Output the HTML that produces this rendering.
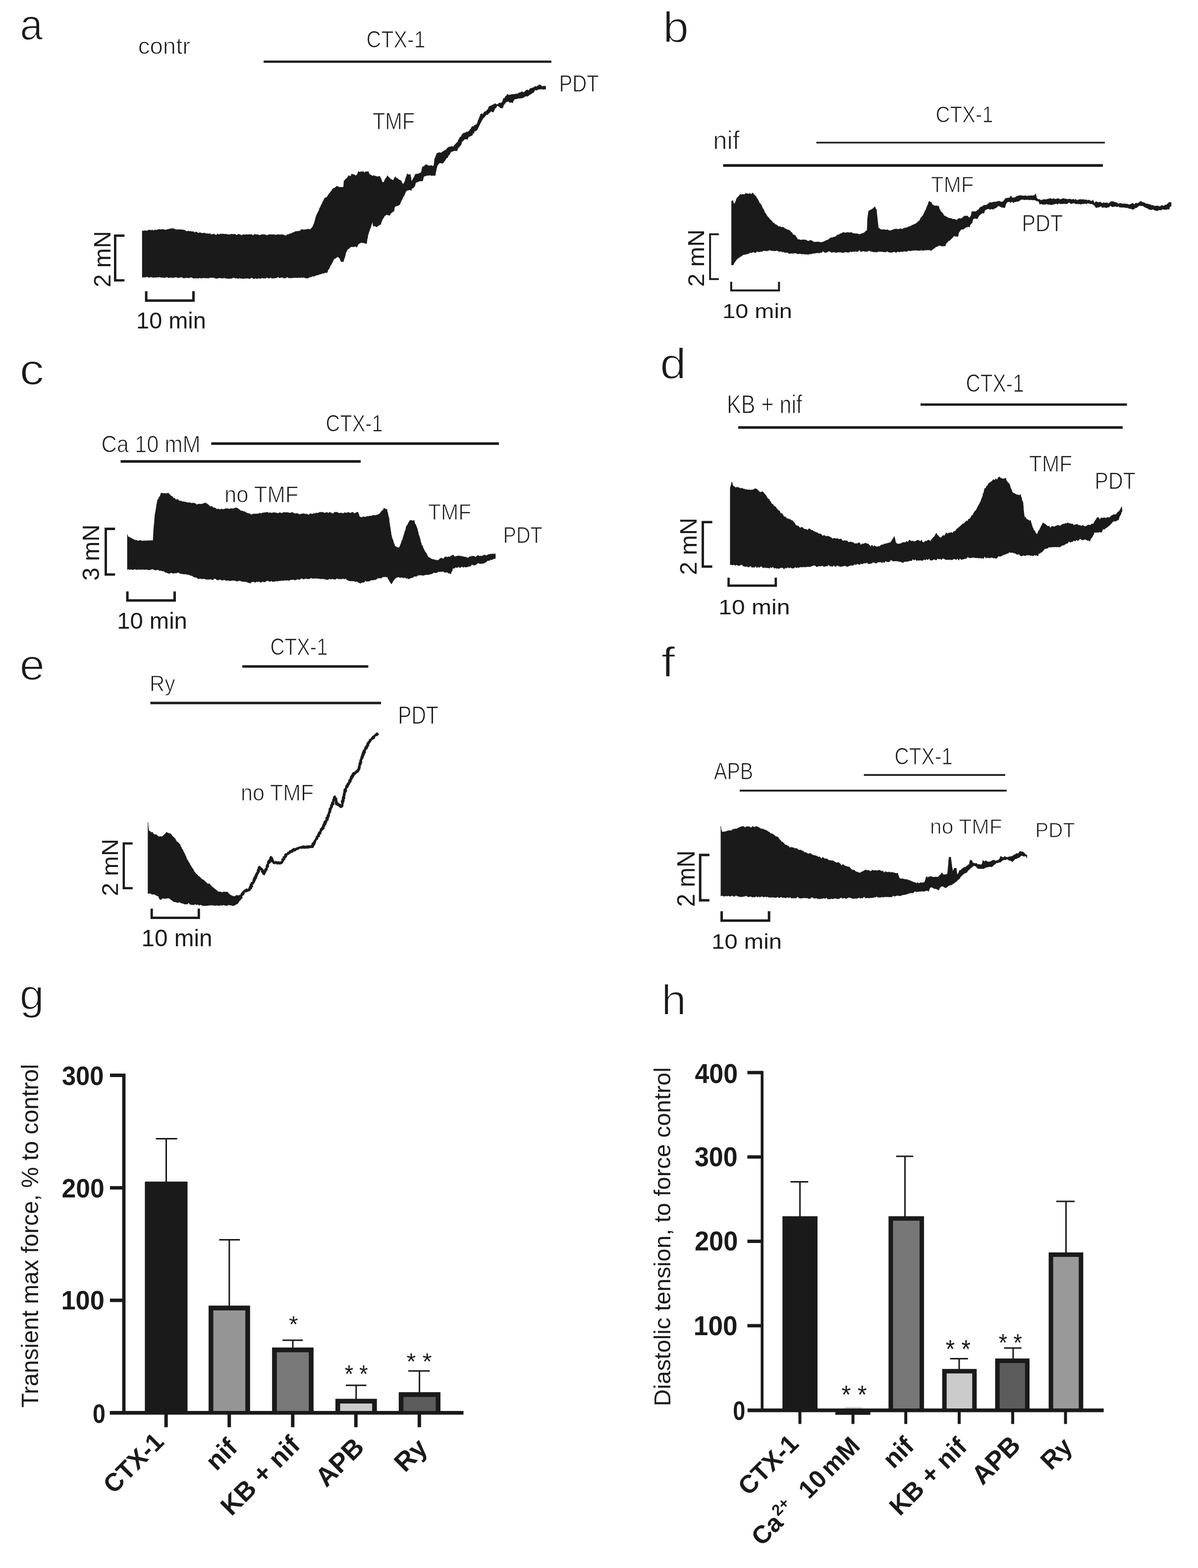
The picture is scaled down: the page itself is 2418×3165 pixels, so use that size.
<!DOCTYPE html>
<html><head><meta charset="utf-8"><title>Figure</title>
<style>html,body{margin:0;padding:0;background:#fff;} svg{display:block;}</style></head>
<body><svg width="2418" height="3165" viewBox="0 0 2418 3165">
<rect width="2418" height="3165" fill="#fff"/>
<path d="M287.0 466.0 L289.6 466.1 L292.2 465.5 L294.8 465.8 L297.4 465.9 L300.0 464.0 L302.5 464.3 L305.0 465.0 L307.5 463.9 L310.0 465.8 L312.5 463.7 L315.0 464.4 L317.5 464.0 L320.0 463.0 L322.7 462.9 L325.4 463.5 L328.1 462.8 L330.8 463.3 L333.5 464.3 L336.2 463.6 L338.9 462.8 L341.6 462.3 L344.3 461.7 L347.0 461.0 L349.6 461.7 L352.1 461.8 L354.7 463.6 L357.2 463.4 L359.8 463.3 L362.3 463.4 L364.9 463.5 L367.4 463.8 L370.0 464.0 L372.5 464.4 L375.1 466.1 L377.6 467.3 L380.1 465.8 L382.6 467.0 L385.2 466.7 L387.7 467.7 L390.2 467.0 L392.8 469.4 L395.3 467.9 L397.8 468.7 L400.4 470.8 L402.9 469.3 L405.4 469.9 L407.9 470.9 L410.5 470.6 L413.0 470.0 L415.6 471.7 L418.3 471.2 L420.9 472.1 L423.6 471.3 L426.2 473.2 L428.9 473.2 L431.5 472.0 L434.1 473.8 L436.8 474.5 L439.4 471.7 L442.1 473.7 L444.7 472.0 L447.4 472.2 L450.0 472.0 L452.5 472.7 L455.0 472.3 L457.6 473.0 L460.1 473.2 L462.6 473.5 L465.1 473.2 L467.6 472.3 L470.2 472.9 L472.7 472.8 L475.2 472.8 L477.7 474.9 L480.2 472.7 L482.8 472.9 L485.3 473.7 L487.8 475.2 L490.3 473.5 L492.8 473.6 L495.4 473.9 L497.9 473.1 L500.4 473.8 L502.9 473.1 L505.4 473.4 L508.0 473.1 L510.5 475.4 L513.0 473.0 L515.6 473.2 L518.2 473.7 L520.7 473.4 L523.3 475.0 L525.9 474.3 L528.5 473.2 L531.0 473.5 L533.6 473.5 L536.2 474.0 L538.8 475.2 L541.3 473.9 L543.9 473.3 L546.5 473.6 L549.1 473.4 L551.7 473.6 L554.2 473.6 L556.8 474.4 L559.4 473.6 L562.0 473.2 L564.5 474.0 L567.1 473.5 L569.7 473.7 L572.3 474.0 L574.8 475.3 L577.4 476.0 L580.0 473.0 L582.4 473.3 L584.9 471.8 L587.3 471.7 L589.7 469.9 L592.1 469.3 L594.6 467.9 L597.0 467.0 L599.6 466.9 L602.2 466.3 L604.8 466.5 L607.4 463.8 L610.0 463.0 L612.5 463.8 L615.0 463.7 L617.5 463.2 L620.0 462.5 L622.5 462.4 L625.0 463.2 L627.5 461.7 L630.0 459.0 L631.0 457.3 L632.0 455.5 L633.0 452.9 L634.0 450.9 L635.0 446.7 L635.8 444.7 L636.6 440.9 L637.5 438.3 L638.3 435.0 L639.4 433.4 L640.5 430.3 L641.6 429.0 L642.8 426.0 L643.9 424.4 L645.0 420.0 L646.6 417.9 L648.3 413.3 L649.6 411.9 L651.0 408.3 L652.3 405.8 L653.7 403.3 L655.0 400.0 L657.1 399.1 L659.1 398.3 L661.2 396.0 L663.3 391.7 L665.0 390.3 L666.7 387.6 L668.3 386.2 L670.0 383.4 L671.7 380.8 L674.5 379.8 L677.2 377.8 L680.0 375.8 L682.7 376.8 L685.3 377.9 L688.0 377.8 L690.6 378.0 L693.3 377.5 L693.5 375.1 L693.7 373.8 L693.8 370.3 L694.0 368.4 L694.2 365.0 L696.0 363.8 L697.8 361.1 L699.7 359.9 L701.5 358.0 L703.3 354.2 L705.5 355.2 L707.8 355.5 L710.0 350.8 L712.5 352.3 L715.0 352.2 L717.5 354.5 L720.0 353.3 L721.1 352.0 L722.2 348.8 L723.3 345.8 L725.8 347.5 L728.3 346.4 L730.8 346.8 L733.3 345.9 L735.8 348.5 L738.3 346.0 L740.8 346.9 L743.3 345.8 L744.4 348.7 L745.6 351.3 L746.7 352.5 L749.2 353.3 L751.7 355.6 L754.2 354.0 L756.7 355.2 L759.2 355.7 L761.7 356.8 L764.2 356.0 L766.7 355.8 L768.0 359.2 L769.3 361.0 L770.7 365.7 L772.0 367.3 L773.3 368.3 L774.7 367.4 L776.1 364.2 L777.5 361.5 L778.9 358.9 L780.3 358.4 L781.7 354.2 L783.7 356.6 L785.7 358.6 L787.7 360.9 L789.7 361.7 L791.7 363.3 L793.9 363.6 L796.1 358.9 L798.3 356.7 L800.6 359.7 L803.0 360.5 L805.3 362.7 L807.7 363.8 L810.0 365.0 L811.4 368.9 L812.8 371.1 L814.2 371.7 L815.1 369.4 L816.1 367.9 L817.0 366.5 L818.0 362.7 L818.9 359.3 L819.8 356.9 L820.8 354.7 L821.7 350.8 L825.0 352.7 L828.3 351.7 L828.8 356.3 L829.3 357.7 L829.8 360.2 L830.3 364.7 L830.8 365.8 L832.0 364.3 L833.3 361.2 L834.5 359.2 L835.8 357.6 L837.0 354.3 L838.3 351.7 L841.2 351.0 L844.1 351.0 L847.1 349.3 L850.0 348.3 L850.6 346.0 L851.2 342.6 L851.9 339.8 L852.5 336.7 L855.0 336.1 L857.5 334.1 L860.0 331.5 L862.6 333.4 L865.2 334.4 L867.8 334.7 L870.3 333.6 L872.9 335.2 L875.5 334.2 L875.8 333.3 L876.1 329.4 L876.4 328.2 L876.7 325.3 L877.0 320.2 L878.2 318.8 L879.4 315.2 L880.5 312.6 L881.7 309.4 L884.5 308.5 L887.3 307.7 L890.0 308.6 L892.8 306.4 L895.6 304.8 L897.9 303.3 L900.2 302.4 L902.6 299.3 L904.9 297.0 L907.4 296.6 L909.9 296.0 L912.3 295.3 L914.8 296.2 L917.3 292.4 L919.6 290.6 L921.9 287.7 L923.5 287.2 L925.0 282.6 L926.5 280.7 L928.1 276.9 L930.2 276.1 L932.2 272.3 L934.3 269.2 L936.8 268.2 L939.3 267.9 L941.7 266.1 L944.2 266.2 L946.7 263.8 L948.2 262.2 L949.8 260.6 L951.4 257.5 L952.9 255.2 L955.2 255.5 L957.5 253.0 L959.8 252.3 L962.1 250.6 L963.1 248.4 L964.2 246.4 L965.2 241.3 L966.4 241.5 L967.5 236.0 L968.7 234.9 L969.9 230.5 L972.2 229.1 L974.5 230.9 L976.8 226.3 L979.2 225.1 L981.5 224.0 L983.8 221.2 L985.3 219.2 L986.9 215.0 L989.4 214.0 L991.9 212.9 L994.3 211.4 L996.8 210.8 L999.3 208.8 L1002.1 210.8 L1004.9 210.6 L1007.6 207.6 L1010.4 208.1 L1013.2 206.5 L1014.2 204.7 L1015.3 201.1 L1016.3 198.0 L1018.2 198.7 L1020.1 194.4 L1022.1 193.4 L1024.0 190.0 L1027.1 192.1 L1030.2 191.3 L1033.3 190.4 L1036.4 190.2 L1039.0 190.3 L1041.6 189.3 L1044.2 189.7 L1046.7 187.6 L1049.3 187.2 L1051.9 185.6 L1054.4 184.9 L1056.9 186.9 L1059.3 184.7 L1061.8 182.2 L1064.3 181.0 L1066.9 182.9 L1069.5 178.9 L1072.0 178.1 L1074.6 177.4 L1077.2 176.6 L1079.8 174.0 L1082.9 175.0 L1085.9 172.8 L1089.0 170.9 L1091.5 171.8 L1094.0 174.6 L1096.4 173.8 L1098.9 174.0 L1101.4 173.2 L1101.4 180.2 L1098.8 180.1 L1096.1 180.6 L1093.5 179.5 L1090.8 180.3 L1088.2 180.1 L1085.5 180.9 L1082.9 182.5 L1080.8 181.2 L1078.8 183.5 L1076.7 187.1 L1074.5 187.4 L1072.3 189.8 L1070.2 190.6 L1068.0 192.1 L1065.8 194.1 L1063.3 194.4 L1060.9 194.0 L1058.4 195.8 L1056.0 197.2 L1053.5 198.0 L1050.9 198.2 L1048.3 198.6 L1045.8 198.5 L1043.2 199.6 L1040.6 199.7 L1038.0 201.1 L1037.0 202.9 L1035.9 203.7 L1034.9 208.0 L1032.2 206.2 L1029.5 207.3 L1025.6 204.2 L1023.7 205.5 L1021.8 205.8 L1019.8 208.2 L1017.9 211.1 L1016.9 211.3 L1015.8 215.0 L1014.8 218.1 L1010.1 218.1 L1008.0 215.9 L1006.0 214.3 L1003.9 213.5 L1002.4 215.4 L1000.8 218.2 L999.3 218.7 L997.7 222.3 L996.2 225.8 L993.6 226.3 L991.1 224.3 L988.5 227.4 L986.1 229.2 L983.8 232.0 L981.5 231.4 L979.1 235.1 L976.8 237.6 L974.5 239.8 L973.3 242.2 L972.0 244.0 L970.8 246.9 L969.5 248.4 L968.3 252.1 L967.1 253.9 L966.0 256.7 L964.9 258.2 L963.7 261.4 L961.9 263.1 L960.1 265.0 L958.3 263.6 L956.5 269.2 L954.7 269.1 L952.9 273.8 L950.6 274.0 L948.2 275.6 L945.9 276.3 L943.6 281.5 L941.0 280.7 L938.4 281.1 L935.8 283.1 L934.2 285.3 L932.7 285.1 L931.1 291.0 L929.6 293.9 L928.1 294.6 L926.5 298.0 L925.0 297.5 L923.4 302.6 L921.9 304.8 L919.2 304.2 L916.5 304.3 L913.8 305.5 L911.1 306.3 L909.5 307.5 L908.0 311.1 L906.4 313.0 L904.9 314.7 L903.3 318.7 L901.4 318.8 L899.6 321.9 L897.7 324.8 L895.9 327.1 L894.0 329.5 L890.9 329.4 L887.9 328.8 L884.8 331.1 L883.8 333.6 L882.7 334.1 L881.7 338.8 L881.2 339.3 L880.7 342.7 L880.2 345.2 L879.6 347.9 L879.1 350.5 L878.6 354.3 L876.0 354.2 L873.3 354.2 L870.5 354.4 L867.8 353.4 L865.0 354.3 L862.2 354.1 L859.5 355.0 L856.7 355.8 L855.6 356.1 L854.4 360.0 L853.3 365.0 L850.6 365.5 L848.0 365.3 L845.3 366.3 L842.7 367.6 L840.0 368.3 L838.9 369.6 L837.8 373.9 L836.7 376.7 L835.0 378.6 L833.4 380.3 L831.7 379.3 L830.0 385.0 L827.2 382.7 L824.5 384.0 L821.7 384.2 L820.4 385.8 L819.0 387.0 L817.7 390.4 L816.3 393.6 L815.0 396.7 L813.8 396.4 L812.6 400.8 L811.4 403.1 L810.3 404.6 L809.1 407.7 L807.9 410.5 L806.7 413.3 L804.2 414.5 L801.7 415.5 L799.2 415.9 L796.7 418.3 L796.1 420.5 L795.6 423.3 L795.0 426.7 L792.9 427.2 L790.9 429.6 L788.8 430.2 L786.7 435.0 L783.4 434.1 L780.0 433.3 L778.3 435.1 L776.7 435.1 L775.0 438.6 L773.4 440.9 L771.7 443.3 L770.9 445.7 L770.0 447.7 L769.1 450.7 L768.3 453.3 L765.5 454.1 L762.8 456.2 L760.0 458.3 L756.6 456.0 L753.3 456.7 L752.8 453.7 L752.2 449.3 L751.7 448.3 L750.9 450.7 L750.0 453.3 L749.1 455.5 L748.3 460.0 L747.3 461.0 L746.3 463.9 L745.3 466.7 L744.3 470.1 L743.3 473.3 L742.8 473.4 L742.4 477.4 L741.9 481.1 L741.4 481.8 L740.9 485.3 L740.5 488.3 L740.0 491.7 L737.3 491.4 L734.7 490.3 L732.0 490.2 L729.4 489.6 L726.7 490.8 L725.0 492.1 L723.4 492.3 L721.7 496.4 L720.0 499.2 L717.1 497.0 L714.1 498.5 L711.2 498.0 L708.3 498.3 L706.2 499.9 L704.1 502.3 L702.1 502.7 L700.0 506.7 L699.3 507.4 L698.5 510.3 L697.8 510.5 L697.0 515.5 L696.3 518.1 L695.5 520.5 L694.8 522.2 L694.0 524.4 L693.3 528.3 L690.8 527.9 L688.3 528.3 L686.9 524.4 L685.6 521.7 L684.2 520.0 L681.1 518.2 L678.1 521.0 L675.0 522.5 L673.7 522.9 L672.3 527.4 L671.0 529.3 L669.6 532.2 L668.3 535.0 L667.1 535.2 L665.9 538.9 L664.7 541.5 L663.6 543.8 L662.4 544.1 L661.2 548.5 L660.0 550.8 L657.1 550.0 L654.1 551.7 L651.2 551.5 L648.3 553.3 L645.8 553.3 L643.3 554.8 L640.8 555.2 L638.3 555.8 L635.8 556.7 L633.3 558.3 L630.6 557.1 L628.0 559.4 L625.3 559.0 L622.7 560.9 L620.0 561.7 L617.5 561.2 L615.0 560.8 L612.5 559.8 L610.0 560.5 L607.5 559.9 L605.0 560.7 L602.5 559.9 L600.0 561.0 L597.4 560.3 L594.9 560.6 L592.3 560.5 L589.8 561.0 L587.2 561.2 L584.6 560.9 L582.1 561.1 L579.5 559.0 L577.0 561.2 L574.4 561.4 L571.9 561.3 L569.3 559.7 L566.7 560.3 L564.2 561.2 L561.6 559.1 L559.1 560.5 L556.5 561.1 L553.9 561.4 L551.4 561.4 L548.8 562.1 L546.3 560.1 L543.7 561.8 L541.1 561.3 L538.6 560.0 L536.0 562.2 L533.5 561.2 L530.9 561.6 L528.4 561.0 L525.8 562.6 L523.2 561.5 L520.7 562.0 L518.1 562.8 L515.6 561.3 L513.0 563.0 L510.5 562.1 L508.0 560.1 L505.5 562.0 L503.0 562.8 L500.4 561.5 L497.9 561.9 L495.4 562.0 L492.9 561.8 L490.4 562.7 L487.9 562.0 L485.4 561.7 L482.9 561.4 L480.4 562.4 L477.8 560.9 L475.3 562.0 L472.8 560.4 L470.3 560.5 L467.8 562.0 L465.3 561.9 L462.8 562.5 L460.3 562.1 L457.8 561.9 L455.2 561.8 L452.7 560.7 L450.2 561.6 L447.7 561.7 L445.2 561.0 L442.7 561.0 L440.2 561.3 L437.7 562.2 L435.2 561.6 L432.6 561.3 L430.1 559.9 L427.6 560.4 L425.1 560.3 L422.6 560.6 L420.1 562.0 L417.6 561.0 L415.1 561.3 L412.6 561.0 L410.0 560.9 L407.5 561.5 L405.0 561.2 L402.5 561.0 L400.0 562.0 L397.5 561.1 L395.0 561.7 L392.5 561.4 L390.0 561.8 L387.4 560.2 L384.9 559.4 L382.4 560.9 L379.9 561.0 L377.4 560.4 L374.9 560.7 L372.4 561.2 L369.9 561.3 L367.4 559.5 L364.8 559.6 L362.3 560.1 L359.8 561.2 L357.3 559.7 L354.8 559.3 L352.3 559.9 L349.8 560.6 L347.3 560.6 L344.8 559.8 L342.2 560.6 L339.7 560.8 L337.2 559.0 L334.7 559.8 L332.2 560.5 L329.7 560.2 L327.2 559.9 L324.7 560.1 L322.2 559.0 L319.6 559.6 L317.1 559.4 L314.6 560.1 L312.1 559.8 L309.6 560.3 L307.1 559.4 L304.6 559.1 L302.1 559.7 L299.6 560.2 L297.0 558.3 L294.5 559.4 L292.0 559.6 L289.5 559.5 L287.0 560.0 Z" fill="#1a1a1a" stroke="#1a1a1a" stroke-width="0.6" stroke-linejoin="round"/>
<path d="M1476.4 406.4 L1479.0 404.0 L1479.9 407.4 L1480.9 409.9 L1481.8 411.8 L1482.8 410.4 L1483.9 408.3 L1484.9 406.5 L1486.0 402.4 L1487.0 400.0 L1488.8 398.1 L1490.5 396.3 L1492.2 394.7 L1494.0 392.0 L1496.8 392.9 L1499.5 392.1 L1502.2 392.7 L1505.0 390.0 L1507.8 390.7 L1510.6 391.3 L1513.4 390.4 L1516.2 392.0 L1519.0 389.0 L1521.3 391.9 L1523.7 394.6 L1526.0 396.0 L1527.4 400.2 L1528.8 400.6 L1530.1 404.2 L1531.5 405.4 L1532.9 410.0 L1534.2 410.2 L1535.6 413.0 L1537.0 414.0 L1538.2 417.8 L1539.4 420.2 L1540.7 422.0 L1541.9 423.8 L1543.1 427.7 L1544.3 430.0 L1545.6 430.6 L1546.8 433.6 L1548.0 435.0 L1550.0 438.3 L1552.0 439.7 L1554.0 442.8 L1556.0 444.4 L1558.0 446.0 L1560.2 449.9 L1562.4 450.1 L1564.6 452.7 L1566.8 453.5 L1569.0 455.0 L1571.6 457.6 L1574.2 456.8 L1576.8 458.7 L1579.4 458.4 L1582.0 459.0 L1584.4 461.4 L1586.8 461.9 L1589.2 463.8 L1591.6 464.3 L1594.0 465.0 L1596.2 468.0 L1598.4 469.3 L1600.6 473.4 L1602.8 474.1 L1605.0 475.0 L1606.8 478.1 L1608.5 479.8 L1610.2 483.8 L1612.0 483.0 L1614.6 484.1 L1617.2 484.6 L1619.8 483.8 L1622.4 484.0 L1625.0 484.0 L1628.0 484.9 L1631.0 486.9 L1634.0 485.4 L1637.0 485.0 L1639.6 486.4 L1642.2 488.2 L1644.8 488.6 L1647.4 488.4 L1650.0 488.0 L1653.0 488.4 L1656.0 489.1 L1659.0 489.0 L1662.0 488.0 L1665.0 486.6 L1668.0 485.0 L1670.7 484.6 L1673.3 482.3 L1676.0 480.0 L1678.3 479.7 L1680.7 479.5 L1683.0 478.0 L1685.3 478.2 L1687.7 476.7 L1690.0 474.0 L1692.8 474.0 L1695.5 471.8 L1698.2 471.3 L1701.0 469.0 L1703.6 469.3 L1706.1 470.1 L1708.7 469.3 L1711.3 469.1 L1713.9 469.4 L1716.4 469.4 L1719.0 469.0 L1721.6 471.3 L1724.1 471.1 L1726.7 471.7 L1729.3 471.4 L1731.9 472.2 L1734.4 473.2 L1737.0 472.5 L1739.2 471.5 L1741.3 470.7 L1743.5 470.2 L1745.7 468.0 L1747.8 466.3 L1750.0 465.0 L1750.1 463.4 L1750.2 461.0 L1750.3 457.6 L1750.4 455.0 L1750.5 454.1 L1750.6 450.5 L1750.7 449.1 L1750.8 446.2 L1750.9 442.9 L1751.0 440.0 L1751.4 437.6 L1751.8 434.6 L1752.2 432.7 L1752.6 429.4 L1753.0 426.0 L1755.3 424.7 L1757.7 423.5 L1760.0 422.0 L1762.0 421.0 L1764.0 418.8 L1766.0 417.0 L1767.5 421.2 L1769.0 422.5 L1769.3 425.1 L1769.6 429.2 L1769.9 431.5 L1770.1 434.1 L1770.4 435.4 L1770.7 439.2 L1771.0 440.0 L1771.2 445.4 L1771.5 446.0 L1771.8 448.8 L1772.0 451.2 L1772.2 452.8 L1772.5 455.5 L1772.8 459.1 L1773.0 460.0 L1775.6 461.3 L1778.1 463.6 L1780.7 463.4 L1783.3 463.3 L1785.9 463.6 L1788.4 464.3 L1791.0 463.5 L1793.7 464.8 L1796.4 465.8 L1799.1 464.8 L1801.9 463.9 L1804.6 462.7 L1807.3 462.2 L1810.0 462.0 L1812.7 463.2 L1815.3 462.3 L1818.0 461.3 L1820.7 462.7 L1823.3 461.1 L1826.0 460.0 L1828.8 459.7 L1831.6 458.8 L1834.4 457.2 L1837.2 456.9 L1840.0 455.0 L1842.2 454.0 L1844.4 453.3 L1846.6 452.0 L1848.8 451.3 L1851.0 449.0 L1852.8 447.4 L1854.5 445.9 L1856.2 445.1 L1858.0 440.0 L1859.6 438.7 L1861.2 436.6 L1862.8 434.7 L1864.4 432.1 L1866.0 428.0 L1867.0 425.6 L1868.0 424.5 L1869.0 422.3 L1870.0 419.4 L1871.0 416.7 L1872.0 414.5 L1873.0 412.5 L1874.0 409.1 L1875.0 406.0 L1877.5 407.6 L1880.0 408.4 L1881.0 412.1 L1883.8 413.9 L1886.6 415.6 L1889.4 415.1 L1892.2 415.8 L1895.0 416.4 L1896.0 421.4 L1897.1 422.9 L1898.7 426.5 L1900.3 428.1 L1901.9 429.3 L1903.6 431.6 L1905.2 434.8 L1906.8 435.7 L1909.4 437.3 L1912.1 438.4 L1914.9 440.2 L1917.7 440.5 L1920.5 441.1 L1923.3 442.6 L1926.1 442.1 L1930.4 444.3 L1932.5 443.1 L1934.6 441.1 L1937.0 440.7 L1939.4 441.4 L1941.9 439.7 L1944.3 437.9 L1946.4 435.7 L1949.7 436.1 L1952.9 435.7 L1955.0 438.5 L1957.1 439.5 L1958.2 437.8 L1959.3 436.0 L1960.4 432.5 L1960.9 430.6 L1961.4 427.1 L1964.1 427.0 L1966.8 427.0 L1969.4 426.9 L1972.1 425.0 L1973.9 423.5 L1975.7 422.5 L1977.5 419.1 L1979.7 417.9 L1981.8 416.9 L1983.9 415.7 L1986.1 413.8 L1988.9 414.2 L1991.8 413.4 L1994.6 411.1 L1997.9 408.4 L2000.4 409.1 L2002.9 408.5 L2005.4 407.7 L2007.9 407.5 L2010.4 407.2 L2012.9 406.8 L2017.1 405.7 L2020.3 407.6 L2023.6 407.3 L2025.7 405.4 L2027.9 402.4 L2030.0 399.8 L2032.7 400.1 L2035.3 399.5 L2038.0 399.0 L2040.7 395.0 L2042.3 398.3 L2043.9 399.3 L2046.3 399.2 L2048.8 398.5 L2051.2 396.5 L2053.6 395.5 L2056.8 395.1 L2060.0 394.3 L2062.5 395.0 L2065.1 395.3 L2067.6 395.2 L2070.2 394.7 L2072.7 396.1 L2075.3 394.9 L2077.8 395.4 L2080.4 394.8 L2082.9 394.9 L2085.5 395.0 L2088.0 394.0 L2090.6 391.0 L2091.4 394.5 L2092.2 399.8 L2093.0 400.0 L2095.8 402.7 L2098.7 402.4 L2101.5 404.5 L2104.3 403.1 L2107.1 402.4 L2109.8 403.0 L2112.6 402.2 L2115.4 401.5 L2118.2 401.0 L2121.0 400.4 L2123.7 402.1 L2126.4 400.5 L2129.1 402.0 L2131.8 401.7 L2134.5 400.7 L2137.2 401.0 L2139.9 402.8 L2142.6 401.8 L2145.3 400.4 L2147.9 400.9 L2150.5 401.5 L2153.1 402.0 L2155.7 402.3 L2158.3 401.5 L2160.9 402.1 L2163.5 403.1 L2166.1 401.7 L2168.7 403.3 L2171.3 402.0 L2173.9 404.5 L2176.5 403.2 L2179.1 402.7 L2181.7 402.4 L2184.4 402.9 L2187.1 402.6 L2189.8 403.6 L2192.5 402.9 L2195.2 404.5 L2197.9 403.4 L2200.6 405.0 L2203.3 406.2 L2206.0 403.4 L2209.0 410.1 L2212.0 406.4 L2214.5 407.8 L2217.1 408.6 L2219.6 407.8 L2222.2 408.2 L2224.7 410.5 L2227.2 408.9 L2229.8 409.6 L2232.3 409.5 L2234.7 409.1 L2237.2 410.9 L2239.6 409.3 L2242.1 407.1 L2244.5 406.4 L2247.1 406.9 L2249.6 407.9 L2252.2 408.5 L2254.8 409.4 L2257.4 411.9 L2259.9 410.0 L2262.5 410.4 L2265.1 411.4 L2267.7 411.3 L2270.2 411.3 L2272.8 411.5 L2275.6 412.0 L2278.5 413.0 L2281.3 412.7 L2284.2 410.8 L2287.0 410.5 L2289.7 412.9 L2292.4 409.6 L2295.1 410.4 L2297.8 409.8 L2300.5 407.2 L2303.2 406.0 L2305.9 408.4 L2308.6 408.7 L2311.3 410.0 L2314.0 411.6 L2316.7 411.5 L2319.4 412.5 L2322.1 413.1 L2324.8 414.6 L2327.4 414.5 L2330.1 416.1 L2332.8 415.7 L2335.5 415.5 L2338.2 415.8 L2340.9 417.0 L2343.6 414.9 L2346.3 414.5 L2349.0 416.0 L2351.7 413.5 L2354.4 413.4 L2357.1 410.6 L2359.8 408.5 L2363.9 408.5 L2363.9 415.5 L2362.5 417.3 L2361.2 417.2 L2359.8 422.6 L2357.1 421.9 L2354.4 422.9 L2351.7 423.0 L2349.0 422.9 L2346.3 422.0 L2343.6 424.3 L2340.9 423.8 L2338.2 424.2 L2335.5 425.7 L2332.8 424.9 L2330.1 424.2 L2327.4 422.2 L2324.8 423.5 L2322.1 423.1 L2319.4 423.0 L2317.1 421.0 L2314.8 419.9 L2312.5 418.9 L2310.1 418.0 L2307.8 416.3 L2305.5 415.2 L2303.2 415.5 L2300.9 415.0 L2298.6 415.7 L2296.3 417.6 L2293.9 419.6 L2291.6 419.6 L2289.3 421.7 L2287.0 423.0 L2284.2 421.8 L2281.3 421.2 L2278.5 420.8 L2275.6 419.3 L2272.8 419.6 L2270.2 418.7 L2267.7 418.6 L2265.1 418.8 L2262.5 418.3 L2259.9 418.6 L2257.4 416.3 L2254.8 417.7 L2252.2 416.7 L2249.6 416.8 L2247.1 417.2 L2244.5 417.6 L2241.4 415.1 L2238.4 418.0 L2235.4 418.6 L2232.3 419.6 L2229.8 418.2 L2227.2 418.4 L2224.7 419.2 L2222.2 416.0 L2219.6 417.6 L2217.1 418.6 L2214.5 418.6 L2212.0 419.6 L2210.0 416.0 L2208.0 414.4 L2206.0 412.5 L2203.3 411.6 L2200.6 411.6 L2197.9 410.4 L2195.2 409.9 L2192.5 411.7 L2189.8 410.7 L2187.1 411.6 L2184.4 411.3 L2181.7 412.5 L2179.1 411.7 L2176.5 411.7 L2173.9 411.0 L2171.3 412.1 L2168.7 410.0 L2166.1 409.9 L2163.5 410.9 L2160.9 411.3 L2158.3 408.2 L2155.7 409.8 L2153.1 411.7 L2150.5 411.2 L2147.9 410.7 L2145.3 411.5 L2142.6 411.4 L2139.9 411.6 L2137.2 410.3 L2134.5 412.4 L2131.8 410.9 L2129.1 411.4 L2126.4 412.6 L2123.7 413.1 L2121.0 413.5 L2118.2 412.6 L2115.4 412.9 L2112.6 411.5 L2109.8 412.6 L2107.1 412.8 L2104.3 412.4 L2101.5 411.4 L2098.7 412.5 L2096.7 407.2 L2094.6 405.7 L2092.6 406.1 L2090.6 404.4 L2088.0 403.5 L2085.5 403.9 L2082.9 403.5 L2080.4 403.1 L2077.8 404.0 L2075.3 402.7 L2072.8 403.3 L2070.2 403.0 L2067.7 403.4 L2065.1 402.8 L2062.6 402.6 L2060.0 403.5 L2057.8 405.0 L2055.7 406.8 L2053.0 406.5 L2050.3 407.4 L2047.7 407.6 L2045.0 409.5 L2042.4 406.7 L2039.8 408.9 L2037.3 407.2 L2034.7 407.3 L2032.1 408.9 L2031.0 410.6 L2030.0 413.2 L2029.0 416.6 L2027.9 419.6 L2024.7 418.8 L2021.4 418.6 L2018.2 416.7 L2015.0 415.4 L2012.8 417.5 L2010.7 419.6 L2007.5 420.6 L2004.3 422.9 L2001.6 421.5 L1998.9 422.9 L1996.2 421.7 L1993.6 421.7 L1990.9 422.8 L1988.2 423.9 L1987.2 426.8 L1986.1 430.4 L1982.8 430.1 L1979.6 432.5 L1977.7 434.1 L1975.8 435.7 L1974.0 439.4 L1972.1 442.1 L1969.3 440.9 L1966.4 441.0 L1963.6 443.2 L1963.0 445.6 L1962.5 449.6 L1960.3 451.4 L1958.2 453.9 L1957.7 455.2 L1957.1 458.8 L1954.6 457.4 L1952.1 458.5 L1949.6 458.8 L1946.4 461.4 L1944.3 462.8 L1942.1 463.1 L1940.0 463.0 L1937.8 466.2 L1935.7 468.9 L1935.0 470.0 L1934.3 474.5 L1933.6 477.5 L1930.9 477.2 L1928.2 476.9 L1925.6 475.9 L1922.9 479.6 L1921.1 481.3 L1919.3 483.1 L1917.5 485.0 L1915.0 486.1 L1912.5 488.8 L1910.0 491.4 L1909.0 492.5 L1907.9 496.8 L1905.0 496.2 L1902.2 497.2 L1899.3 496.2 L1896.4 495.3 L1893.6 496.4 L1890.7 497.9 L1888.6 498.5 L1886.4 501.1 L1884.3 501.7 L1882.1 503.7 L1880.0 506.0 L1877.4 505.0 L1874.9 504.5 L1872.3 504.6 L1869.7 504.9 L1867.1 504.7 L1864.6 505.6 L1862.0 505.7 L1859.4 504.5 L1856.9 505.9 L1854.3 505.4 L1851.7 505.8 L1849.1 505.2 L1846.6 504.9 L1844.0 506.0 L1841.5 505.3 L1838.9 506.2 L1836.4 506.5 L1833.9 505.5 L1831.4 507.3 L1828.8 507.7 L1826.3 507.1 L1823.8 507.6 L1821.2 508.3 L1818.7 507.4 L1816.2 509.1 L1813.7 507.9 L1811.1 508.1 L1808.6 510.0 L1806.0 508.4 L1803.5 507.9 L1800.9 509.6 L1798.3 509.6 L1795.7 509.1 L1793.2 509.1 L1790.6 507.1 L1788.0 509.0 L1785.4 508.6 L1782.9 508.5 L1780.3 507.7 L1777.7 508.1 L1775.1 507.5 L1772.6 507.9 L1770.0 509.0 L1767.5 508.6 L1764.9 508.7 L1762.4 508.6 L1759.8 507.4 L1757.3 507.6 L1754.8 505.8 L1752.2 507.0 L1749.7 507.7 L1747.2 507.6 L1744.6 507.5 L1742.1 506.5 L1739.5 507.8 L1737.0 508.0 L1734.4 504.3 L1731.9 508.1 L1729.3 507.7 L1726.7 507.3 L1724.1 508.0 L1721.6 507.4 L1719.0 508.6 L1716.4 507.7 L1713.9 509.2 L1711.3 509.4 L1708.7 509.0 L1706.1 508.5 L1703.6 509.8 L1701.0 510.0 L1698.5 509.8 L1696.0 508.8 L1693.5 509.1 L1691.0 508.9 L1688.5 509.9 L1686.0 509.6 L1683.5 508.7 L1681.0 509.1 L1678.5 509.7 L1676.0 508.3 L1673.5 506.7 L1671.0 507.9 L1668.5 509.4 L1666.0 510.0 L1663.4 508.9 L1660.9 507.1 L1658.3 510.1 L1655.7 509.7 L1653.1 511.2 L1650.6 509.9 L1648.0 510.7 L1645.4 511.0 L1642.9 511.4 L1640.3 511.5 L1637.7 512.7 L1635.1 512.5 L1632.6 513.3 L1630.0 513.6 L1627.4 513.1 L1624.9 513.2 L1622.3 512.8 L1619.7 512.8 L1617.1 512.8 L1614.6 511.7 L1612.0 512.5 L1609.4 512.3 L1606.9 511.1 L1604.3 510.9 L1601.7 511.3 L1599.1 511.5 L1596.6 511.2 L1594.0 512.0 L1591.5 511.4 L1588.9 509.3 L1586.4 509.7 L1583.9 510.1 L1581.4 508.3 L1578.8 509.0 L1576.3 507.1 L1573.8 507.5 L1571.2 507.8 L1568.7 505.4 L1566.2 506.2 L1563.7 506.5 L1561.1 506.2 L1558.6 506.0 L1556.1 506.1 L1553.5 504.5 L1551.0 505.9 L1548.4 506.5 L1545.9 506.3 L1543.3 506.4 L1540.8 505.7 L1538.3 508.2 L1535.7 507.6 L1533.2 508.2 L1530.6 508.2 L1528.1 507.6 L1525.5 509.7 L1523.0 510.0 L1520.4 508.4 L1517.9 510.0 L1515.3 510.0 L1512.7 510.5 L1510.1 512.5 L1507.6 512.6 L1505.0 513.6 L1502.5 513.7 L1500.0 514.3 L1497.5 516.3 L1495.0 518.0 L1493.0 518.8 L1491.0 520.7 L1489.0 521.5 L1487.0 524.0 L1485.6 525.6 L1484.2 527.7 L1482.8 529.0 L1481.4 532.1 L1480.0 535.0 L1476.4 535.0 Z" fill="#1a1a1a" stroke="#1a1a1a" stroke-width="0.6" stroke-linejoin="round"/>
<path d="M257.0 1078.8 L258.8 1083.6 L260.7 1083.9 L262.5 1085.0 L265.0 1086.1 L267.5 1087.8 L270.0 1088.6 L272.5 1090.4 L275.0 1090.0 L277.6 1091.5 L280.2 1091.7 L282.8 1090.3 L285.4 1091.3 L288.0 1092.3 L290.6 1090.9 L293.2 1092.0 L295.8 1091.3 L298.4 1091.2 L301.0 1091.5 L303.6 1090.9 L306.2 1091.1 L308.8 1091.0 L308.9 1088.4 L309.1 1087.3 L309.2 1084.0 L309.4 1081.2 L309.5 1078.7 L309.7 1076.1 L309.8 1073.7 L310.0 1070.0 L310.2 1068.0 L310.4 1065.0 L310.6 1063.0 L310.8 1060.9 L311.0 1058.7 L311.2 1056.9 L311.5 1054.2 L311.7 1052.3 L311.9 1048.3 L312.1 1045.3 L312.3 1044.6 L312.5 1040.0 L312.9 1038.6 L313.3 1035.9 L313.8 1032.9 L314.2 1031.5 L314.6 1027.8 L315.0 1027.0 L315.4 1022.6 L315.8 1020.2 L316.2 1018.4 L316.7 1015.7 L317.1 1013.8 L317.5 1010.0 L318.8 1007.9 L320.0 1007.0 L321.2 1003.0 L322.5 1002.4 L323.8 999.1 L325.0 995.0 L327.5 995.4 L330.0 995.9 L332.5 995.7 L335.0 996.3 L337.5 995.8 L340.0 995.0 L342.1 998.1 L344.2 999.6 L346.2 1001.4 L348.3 1002.4 L350.4 1005.7 L352.5 1005.0 L355.0 1009.0 L357.5 1008.0 L360.0 1008.4 L362.5 1011.7 L365.0 1010.6 L367.5 1012.6 L370.0 1012.5 L372.5 1012.9 L375.0 1013.1 L377.5 1014.5 L380.0 1014.6 L382.5 1014.2 L385.0 1015.3 L387.5 1015.8 L390.0 1015.0 L392.5 1015.8 L395.0 1016.8 L397.5 1018.9 L400.0 1017.1 L402.5 1017.5 L405.0 1017.6 L407.5 1017.5 L410.0 1016.6 L412.5 1015.6 L415.0 1015.0 L417.3 1016.5 L419.5 1017.9 L421.8 1020.0 L424.1 1022.5 L426.4 1022.0 L428.6 1022.6 L430.9 1025.1 L433.2 1024.8 L435.5 1026.0 L437.7 1027.9 L440.0 1027.5 L442.5 1027.5 L445.0 1028.6 L447.5 1027.1 L450.0 1028.2 L452.5 1027.8 L455.0 1026.6 L457.5 1026.7 L460.0 1026.6 L462.5 1027.6 L465.0 1026.9 L467.5 1026.0 L470.0 1026.9 L472.5 1025.8 L475.0 1025.3 L477.5 1025.0 L479.8 1026.3 L482.1 1027.8 L484.4 1029.6 L486.7 1031.3 L489.0 1030.9 L491.2 1032.4 L493.5 1032.5 L495.8 1033.7 L498.1 1035.4 L500.4 1035.9 L502.7 1036.5 L505.0 1037.5 L507.5 1039.1 L510.0 1037.6 L512.5 1037.2 L515.0 1037.3 L517.5 1037.1 L520.0 1037.3 L522.5 1036.4 L525.0 1035.6 L527.5 1036.8 L530.0 1035.1 L532.5 1034.9 L535.0 1034.4 L537.5 1034.3 L540.0 1033.8 L542.5 1035.4 L545.0 1034.6 L547.5 1035.5 L550.0 1035.2 L552.5 1034.3 L555.0 1035.0 L557.5 1034.9 L560.0 1036.2 L562.5 1035.6 L565.0 1034.4 L567.5 1035.8 L570.0 1035.6 L572.5 1034.0 L575.0 1034.5 L577.5 1034.4 L580.0 1034.3 L582.5 1035.0 L585.0 1035.5 L587.5 1034.9 L590.0 1033.8 L592.5 1035.8 L595.0 1036.7 L597.5 1036.5 L600.0 1035.9 L602.5 1037.6 L605.0 1038.4 L607.5 1037.3 L610.0 1037.3 L612.5 1036.6 L615.0 1037.2 L617.5 1037.7 L620.0 1037.5 L622.5 1039.6 L625.0 1037.5 L627.5 1036.5 L630.0 1038.0 L632.5 1036.1 L635.0 1037.1 L637.5 1035.4 L640.0 1035.4 L642.5 1035.6 L645.0 1033.8 L647.5 1033.9 L650.0 1034.0 L652.5 1034.3 L655.0 1035.4 L657.5 1034.9 L660.0 1033.8 L662.5 1036.0 L665.0 1033.8 L667.5 1034.4 L670.0 1036.5 L672.5 1036.7 L675.0 1033.8 L677.5 1033.9 L680.0 1033.8 L682.5 1035.0 L685.0 1036.1 L687.5 1035.2 L690.0 1035.6 L692.5 1036.6 L695.0 1034.7 L697.5 1034.9 L700.0 1035.4 L702.5 1033.8 L705.0 1035.1 L707.5 1035.5 L710.0 1034.2 L712.5 1033.8 L715.0 1036.7 L717.5 1035.4 L720.0 1034.0 L722.5 1033.8 L723.8 1036.6 L725.0 1041.3 L726.2 1042.7 L727.5 1043.8 L730.0 1044.4 L732.5 1043.1 L735.0 1043.1 L737.5 1043.8 L740.0 1042.4 L742.5 1042.2 L745.0 1041.9 L747.5 1041.3 L750.0 1041.5 L752.5 1039.8 L755.0 1040.2 L757.5 1040.3 L760.0 1039.4 L762.5 1039.1 L765.0 1037.5 L766.7 1036.3 L768.3 1034.3 L770.0 1031.7 L771.7 1030.1 L773.3 1029.7 L775.0 1025.0 L778.0 1027.7 L781.0 1027.5 L781.6 1032.3 L782.1 1033.2 L782.7 1035.0 L783.3 1038.9 L783.9 1041.5 L784.4 1043.6 L785.0 1045.0 L785.4 1047.5 L785.7 1051.1 L786.1 1055.6 L786.4 1056.0 L786.8 1058.1 L787.1 1062.0 L787.5 1063.8 L787.9 1065.2 L788.2 1069.1 L788.6 1071.2 L788.9 1072.9 L789.3 1075.2 L789.6 1078.9 L790.0 1080.0 L790.8 1083.2 L791.7 1087.3 L792.5 1088.3 L793.3 1090.2 L794.2 1093.6 L795.0 1096.6 L795.8 1097.6 L796.7 1101.2 L797.5 1102.5 L800.3 1104.0 L803.2 1105.6 L806.0 1105.0 L806.9 1102.8 L807.8 1100.4 L808.7 1098.0 L809.6 1096.4 L810.5 1092.9 L811.4 1090.3 L812.3 1089.9 L813.2 1086.1 L814.1 1083.1 L815.0 1080.0 L815.7 1078.2 L816.4 1075.1 L817.1 1073.0 L817.9 1070.6 L818.6 1069.4 L819.3 1066.1 L820.0 1062.5 L821.5 1060.3 L823.0 1058.7 L824.5 1055.0 L826.0 1052.6 L827.5 1050.0 L830.3 1050.3 L833.2 1051.3 L836.0 1050.0 L836.9 1054.2 L837.9 1058.6 L838.8 1057.7 L839.7 1060.5 L840.6 1063.0 L841.6 1065.3 L842.5 1067.5 L843.2 1071.4 L843.9 1073.4 L844.5 1076.2 L845.2 1080.7 L845.9 1080.6 L846.6 1082.8 L847.3 1085.7 L848.0 1088.0 L848.6 1090.6 L849.3 1094.1 L850.0 1095.0 L851.1 1100.3 L852.1 1100.3 L853.2 1102.6 L854.3 1106.4 L855.4 1107.7 L856.4 1110.4 L857.5 1112.5 L859.2 1115.1 L860.8 1117.1 L862.5 1121.0 L864.2 1124.2 L865.8 1124.9 L867.5 1126.0 L870.0 1127.6 L872.5 1128.9 L875.0 1128.9 L877.5 1129.9 L880.0 1130.5 L882.5 1131.0 L885.0 1130.4 L887.5 1128.1 L890.0 1126.0 L892.5 1127.3 L895.0 1127.9 L897.5 1124.4 L900.0 1123.8 L902.5 1124.7 L905.0 1123.8 L907.5 1124.2 L910.0 1122.1 L912.5 1121.1 L915.0 1120.0 L917.5 1123.8 L920.0 1123.0 L922.5 1122.4 L925.0 1121.8 L927.5 1122.3 L930.0 1122.5 L932.5 1123.1 L935.0 1123.5 L937.5 1124.3 L940.0 1124.0 L942.5 1125.6 L945.0 1126.3 L947.5 1123.4 L950.0 1123.4 L952.5 1122.6 L955.0 1122.5 L957.5 1122.7 L960.0 1124.8 L962.5 1121.9 L965.0 1121.0 L967.5 1122.6 L970.0 1122.1 L972.5 1122.4 L975.0 1121.3 L977.5 1120.1 L980.0 1120.7 L982.5 1121.5 L985.0 1119.3 L987.5 1119.1 L990.0 1118.2 L992.5 1118.4 L995.0 1117.5 L997.5 1118.7 L1000.0 1117.5 L1000.0 1127.5 L997.5 1127.5 L995.0 1128.7 L992.5 1130.3 L990.0 1129.3 L987.5 1132.2 L985.0 1131.1 L982.5 1133.4 L980.0 1135.2 L977.5 1136.4 L975.0 1137.5 L972.5 1137.5 L970.0 1137.8 L967.5 1137.6 L965.0 1136.3 L962.5 1138.3 L960.0 1140.5 L957.5 1140.8 L955.0 1140.6 L952.5 1139.3 L950.0 1142.7 L947.5 1143.3 L945.0 1143.7 L942.5 1144.4 L940.0 1145.0 L937.5 1144.0 L935.0 1145.4 L932.5 1143.3 L930.0 1145.6 L927.5 1145.6 L925.0 1144.1 L922.5 1146.2 L920.0 1144.8 L917.5 1146.9 L915.0 1147.5 L914.0 1145.5 L913.0 1151.5 L912.0 1153.4 L911.0 1154.4 L910.0 1159.0 L907.5 1156.9 L905.0 1157.2 L902.5 1155.1 L900.0 1154.9 L897.5 1155.7 L895.0 1153.4 L892.5 1153.6 L890.0 1154.0 L887.5 1154.1 L885.0 1153.8 L882.5 1155.6 L880.0 1156.3 L877.5 1156.1 L875.0 1155.7 L872.5 1158.2 L870.0 1158.5 L867.5 1159.3 L865.0 1160.0 L862.5 1160.1 L860.0 1160.0 L857.5 1160.5 L855.0 1161.4 L852.5 1161.5 L850.0 1160.7 L847.5 1161.1 L845.0 1161.1 L842.5 1161.8 L840.0 1164.0 L837.5 1163.0 L835.0 1164.2 L832.5 1166.4 L830.0 1166.2 L827.5 1167.4 L825.0 1169.0 L822.5 1167.0 L820.0 1167.9 L817.5 1165.6 L815.0 1166.8 L812.5 1165.8 L810.0 1165.3 L807.5 1166.3 L805.0 1164.8 L802.5 1165.1 L800.0 1166.0 L798.3 1167.1 L796.7 1169.1 L795.0 1170.9 L793.3 1173.3 L791.7 1176.6 L790.0 1179.0 L788.3 1176.2 L786.7 1174.2 L785.0 1170.7 L783.3 1168.5 L781.7 1164.2 L780.0 1165.0 L777.5 1164.0 L775.0 1165.0 L772.5 1164.2 L770.0 1167.0 L767.5 1167.0 L765.0 1166.7 L762.5 1167.1 L760.0 1169.1 L757.5 1170.3 L755.0 1170.3 L752.5 1171.1 L750.0 1170.7 L747.5 1171.7 L745.0 1173.3 L742.5 1173.1 L740.0 1174.1 L737.5 1172.1 L735.0 1175.3 L732.5 1175.8 L730.0 1175.8 L727.5 1177.5 L725.0 1176.2 L722.5 1175.3 L720.0 1173.2 L717.5 1174.4 L715.0 1172.9 L712.5 1173.0 L710.0 1172.4 L707.5 1172.9 L705.0 1172.4 L702.5 1171.3 L700.0 1170.4 L697.5 1167.5 L695.0 1169.3 L692.5 1167.6 L690.0 1169.0 L687.5 1168.5 L685.0 1168.7 L682.5 1168.6 L680.0 1167.2 L677.5 1169.3 L675.0 1169.2 L672.5 1168.9 L670.0 1168.0 L667.5 1169.6 L665.0 1167.9 L662.5 1169.9 L660.0 1170.0 L657.5 1169.4 L655.0 1169.1 L652.5 1168.0 L650.0 1168.7 L647.5 1168.3 L645.0 1168.1 L642.5 1167.8 L640.0 1167.5 L637.5 1167.2 L635.0 1167.8 L632.5 1167.2 L630.0 1167.8 L627.5 1166.3 L625.0 1168.6 L622.5 1168.3 L620.0 1168.4 L617.5 1167.8 L615.0 1168.3 L612.5 1169.3 L610.0 1167.6 L607.5 1167.6 L605.0 1170.1 L602.5 1169.5 L600.0 1168.9 L597.5 1170.6 L595.0 1171.0 L592.5 1169.7 L590.0 1170.2 L587.5 1170.0 L585.0 1171.1 L582.5 1171.8 L580.0 1170.9 L577.5 1171.7 L575.0 1170.8 L572.5 1172.1 L570.0 1171.7 L567.5 1172.0 L565.0 1172.4 L562.5 1172.3 L560.0 1173.2 L557.5 1172.8 L555.0 1173.4 L552.5 1173.8 L550.0 1174.0 L547.5 1172.6 L545.0 1174.0 L542.5 1173.1 L540.0 1171.9 L537.5 1172.7 L535.0 1174.9 L532.5 1174.6 L530.0 1173.8 L527.5 1175.3 L525.0 1175.4 L522.5 1173.4 L520.0 1174.7 L517.5 1173.9 L515.0 1175.9 L512.5 1174.3 L510.0 1174.3 L507.5 1175.1 L505.0 1177.5 L502.5 1176.2 L500.0 1175.7 L497.5 1174.3 L495.0 1174.3 L492.5 1173.9 L490.0 1174.0 L487.5 1173.4 L485.0 1172.3 L482.5 1171.9 L480.0 1173.0 L477.5 1173.2 L475.0 1172.0 L472.5 1171.8 L470.0 1171.5 L467.5 1171.7 L465.0 1172.4 L462.5 1172.1 L460.0 1171.4 L457.5 1172.0 L455.0 1171.5 L452.5 1170.1 L450.0 1171.3 L447.5 1171.2 L445.0 1169.8 L442.5 1169.7 L440.0 1171.0 L437.5 1170.4 L435.0 1168.2 L432.5 1167.8 L430.0 1170.3 L427.5 1170.1 L425.0 1168.7 L422.5 1169.8 L420.0 1169.2 L417.5 1169.7 L415.0 1169.0 L412.5 1168.4 L410.0 1167.8 L407.5 1168.9 L405.0 1167.7 L402.5 1167.8 L400.0 1168.8 L397.5 1166.3 L395.0 1165.2 L392.5 1165.2 L390.0 1163.9 L387.5 1161.7 L385.0 1162.1 L382.5 1160.3 L380.0 1160.0 L377.5 1159.5 L375.0 1158.8 L372.5 1158.9 L370.0 1158.8 L367.5 1158.1 L365.0 1158.3 L362.5 1157.1 L360.0 1155.3 L357.5 1156.2 L355.0 1157.0 L352.5 1156.7 L350.0 1157.4 L347.5 1156.7 L345.0 1155.9 L342.5 1157.5 L340.0 1157.5 L337.5 1156.2 L335.0 1155.4 L332.5 1154.8 L330.0 1152.2 L327.5 1152.9 L325.0 1151.6 L322.5 1151.9 L320.0 1150.6 L317.5 1149.9 L315.0 1151.0 L312.5 1150.3 L310.0 1149.8 L307.4 1148.5 L304.9 1149.4 L302.4 1150.3 L299.9 1150.3 L297.3 1149.9 L294.8 1149.0 L292.3 1150.1 L289.8 1149.4 L287.3 1149.2 L284.7 1149.8 L282.2 1149.3 L279.7 1149.7 L277.2 1149.2 L274.7 1150.2 L272.1 1148.4 L269.6 1150.0 L267.1 1149.9 L264.6 1148.9 L262.0 1149.7 L259.5 1149.0 L257.0 1150.0 Z" fill="#1a1a1a" stroke="#1a1a1a" stroke-width="0.6" stroke-linejoin="round"/>
<path d="M1473.8 983.8 L1474.6 982.1 L1475.4 979.5 L1476.2 975.4 L1477.0 972.5 L1478.0 975.5 L1479.0 978.7 L1480.0 981.0 L1482.5 982.2 L1485.0 984.4 L1487.5 983.0 L1490.0 983.8 L1492.5 984.7 L1495.0 986.1 L1497.5 985.0 L1500.0 986.7 L1502.5 986.9 L1505.0 988.3 L1507.5 988.1 L1510.0 988.8 L1512.5 988.4 L1515.0 989.3 L1517.5 988.6 L1520.0 988.8 L1522.5 987.0 L1525.0 986.0 L1527.5 987.5 L1530.0 989.2 L1532.5 992.5 L1535.0 993.7 L1537.5 992.6 L1540.0 992.5 L1541.8 995.1 L1543.6 997.1 L1545.4 999.0 L1547.1 1001.8 L1548.9 1005.0 L1550.7 1006.9 L1552.5 1007.5 L1554.0 1012.2 L1555.5 1011.9 L1557.0 1016.3 L1558.5 1017.2 L1560.0 1017.5 L1561.8 1021.4 L1563.6 1021.5 L1565.4 1022.9 L1567.1 1025.6 L1568.9 1027.4 L1570.7 1030.3 L1572.5 1030.0 L1574.3 1033.0 L1576.1 1037.1 L1577.9 1035.4 L1579.6 1038.2 L1581.4 1040.7 L1583.2 1044.1 L1585.0 1042.5 L1587.5 1046.0 L1590.0 1047.0 L1592.5 1047.7 L1595.0 1048.3 L1597.5 1050.3 L1600.0 1051.0 L1602.1 1054.4 L1604.2 1055.8 L1606.2 1060.3 L1608.3 1060.8 L1610.4 1061.7 L1612.5 1062.5 L1615.0 1066.2 L1617.5 1063.8 L1620.0 1064.8 L1622.5 1067.7 L1625.0 1068.0 L1627.5 1068.3 L1630.0 1070.2 L1632.5 1067.1 L1635.0 1067.5 L1637.5 1070.2 L1640.0 1070.1 L1642.5 1072.6 L1645.0 1073.2 L1647.5 1074.8 L1650.0 1075.0 L1652.5 1077.6 L1655.0 1077.3 L1657.5 1078.1 L1660.0 1081.7 L1662.5 1080.7 L1665.0 1081.0 L1667.5 1082.7 L1670.0 1081.9 L1672.5 1082.5 L1675.0 1083.7 L1677.5 1084.8 L1680.0 1087.6 L1682.5 1086.5 L1685.0 1086.5 L1687.5 1087.6 L1690.0 1086.6 L1692.5 1088.3 L1695.0 1088.3 L1697.5 1087.5 L1700.0 1090.8 L1702.5 1091.9 L1705.0 1090.8 L1707.5 1091.7 L1710.0 1091.4 L1712.5 1094.6 L1715.0 1094.1 L1717.5 1093.6 L1720.0 1094.7 L1722.5 1095.0 L1725.0 1097.6 L1727.5 1096.7 L1730.0 1097.4 L1732.5 1095.6 L1735.0 1095.6 L1737.5 1100.1 L1740.0 1097.5 L1742.5 1097.9 L1745.0 1096.8 L1747.5 1096.0 L1750.0 1097.7 L1752.5 1097.8 L1755.0 1100.5 L1757.5 1103.0 L1760.0 1100.0 L1762.5 1103.3 L1765.0 1101.0 L1767.5 1102.9 L1770.0 1104.0 L1772.5 1102.5 L1775.0 1103.2 L1777.5 1100.5 L1780.0 1099.7 L1782.5 1099.6 L1785.0 1097.5 L1787.5 1098.1 L1790.0 1096.6 L1792.5 1096.5 L1795.0 1095.0 L1796.7 1095.8 L1798.3 1092.9 L1800.0 1091.3 L1801.7 1087.5 L1803.3 1086.2 L1805.0 1082.5 L1805.8 1085.3 L1806.6 1088.4 L1807.4 1092.5 L1808.2 1095.5 L1809.0 1096.0 L1811.7 1098.1 L1814.4 1097.7 L1817.1 1097.5 L1819.8 1096.1 L1822.5 1095.0 L1825.0 1094.6 L1827.5 1095.3 L1830.0 1092.1 L1832.5 1094.6 L1835.0 1090.0 L1837.5 1090.9 L1840.0 1092.7 L1842.5 1091.7 L1845.0 1093.3 L1847.5 1092.5 L1850.0 1091.3 L1852.5 1090.0 L1855.0 1091.1 L1857.5 1092.7 L1860.0 1090.0 L1862.5 1094.8 L1865.0 1094.7 L1867.5 1092.0 L1870.0 1092.2 L1872.5 1090.6 L1875.0 1089.9 L1877.5 1092.2 L1880.0 1089.0 L1881.7 1087.0 L1883.3 1084.9 L1885.0 1083.9 L1886.7 1081.6 L1888.3 1078.2 L1890.0 1076.0 L1891.9 1079.9 L1893.8 1081.0 L1895.6 1083.4 L1897.5 1085.0 L1899.6 1085.1 L1901.7 1082.4 L1903.8 1080.2 L1905.8 1081.7 L1907.9 1079.1 L1910.0 1075.0 L1912.5 1077.9 L1915.0 1075.2 L1917.5 1075.9 L1920.0 1074.1 L1922.5 1076.3 L1925.0 1072.5 L1926.9 1072.8 L1928.9 1070.7 L1930.8 1067.9 L1932.8 1066.4 L1934.7 1064.7 L1936.7 1063.2 L1938.6 1061.6 L1940.6 1059.8 L1942.5 1057.5 L1944.6 1057.2 L1946.7 1055.8 L1948.8 1053.0 L1950.8 1051.5 L1952.9 1051.8 L1955.0 1047.5 L1956.7 1047.5 L1958.3 1046.0 L1960.0 1043.1 L1961.7 1040.0 L1963.3 1040.0 L1965.0 1036.0 L1966.4 1033.7 L1967.9 1031.5 L1969.3 1030.5 L1970.7 1028.6 L1972.1 1025.6 L1973.6 1022.4 L1975.0 1020.0 L1976.1 1018.3 L1977.1 1016.5 L1978.2 1013.5 L1979.3 1013.1 L1980.4 1008.2 L1981.4 1006.4 L1982.5 1002.5 L1983.2 1003.6 L1983.9 998.3 L1984.6 995.1 L1985.4 996.1 L1986.1 990.7 L1986.8 988.7 L1987.5 985.0 L1989.4 986.6 L1991.2 981.1 L1993.1 980.6 L1995.0 976.0 L1997.0 974.6 L1999.0 973.3 L2001.0 972.0 L2003.0 970.1 L2005.0 967.5 L2007.5 969.4 L2010.0 966.1 L2012.5 968.6 L2015.0 963.5 L2017.5 962.5 L2020.0 965.0 L2022.5 966.1 L2025.0 966.4 L2027.5 966.0 L2030.0 965.0 L2031.5 970.3 L2033.0 971.8 L2034.5 974.4 L2036.0 975.0 L2037.5 977.5 L2038.6 980.2 L2039.6 984.6 L2040.7 986.6 L2041.8 989.1 L2042.9 992.3 L2043.9 994.0 L2045.0 995.0 L2047.5 995.8 L2050.0 997.4 L2052.5 998.7 L2055.0 998.6 L2057.5 1000.1 L2060.0 997.5 L2060.7 1002.2 L2061.4 1003.3 L2062.1 1006.0 L2062.9 1009.8 L2063.6 1011.0 L2064.3 1012.6 L2065.0 1015.0 L2065.2 1019.4 L2065.5 1020.8 L2065.7 1022.7 L2065.9 1028.9 L2066.1 1029.6 L2066.4 1032.9 L2066.6 1034.6 L2066.8 1035.1 L2067.0 1038.5 L2067.3 1040.1 L2067.5 1042.5 L2070.0 1044.3 L2072.5 1048.2 L2075.0 1049.0 L2077.5 1051.1 L2080.0 1050.0 L2080.8 1053.5 L2081.7 1056.1 L2082.5 1059.0 L2083.3 1061.3 L2084.2 1065.4 L2085.0 1065.0 L2086.5 1070.9 L2088.0 1070.5 L2089.5 1073.7 L2091.0 1077.2 L2092.5 1077.5 L2093.8 1077.8 L2095.0 1074.5 L2096.2 1070.9 L2097.5 1070.9 L2098.8 1067.2 L2100.0 1065.2 L2101.2 1062.4 L2102.5 1060.1 L2103.8 1057.7 L2105.0 1055.0 L2107.5 1056.7 L2110.0 1058.1 L2112.5 1060.3 L2115.0 1062.4 L2117.5 1061.5 L2120.0 1065.7 L2122.5 1062.5 L2125.0 1062.1 L2127.5 1063.6 L2130.0 1062.1 L2132.5 1061.2 L2135.0 1059.8 L2137.5 1061.0 L2140.0 1061.4 L2142.5 1059.6 L2145.0 1057.6 L2147.5 1057.9 L2150.0 1056.2 L2152.5 1056.9 L2155.0 1055.0 L2157.5 1056.2 L2160.0 1056.8 L2162.5 1057.6 L2165.0 1057.2 L2167.5 1060.3 L2170.0 1059.0 L2172.5 1058.4 L2175.0 1058.5 L2177.5 1060.5 L2180.0 1060.1 L2182.5 1062.1 L2185.0 1060.0 L2187.5 1061.5 L2190.0 1063.0 L2192.5 1061.6 L2195.0 1060.3 L2197.5 1059.3 L2200.0 1060.4 L2202.5 1058.0 L2205.0 1057.5 L2206.7 1057.6 L2208.3 1054.3 L2210.0 1051.2 L2211.7 1049.2 L2213.3 1046.3 L2215.0 1044.0 L2217.5 1044.8 L2220.0 1049.1 L2222.5 1044.7 L2225.0 1046.0 L2227.5 1045.0 L2230.0 1044.8 L2232.5 1046.1 L2235.0 1043.9 L2237.5 1044.4 L2240.0 1044.6 L2242.5 1041.0 L2245.0 1040.0 L2247.5 1038.7 L2250.0 1038.7 L2252.5 1038.3 L2255.0 1035.0 L2257.5 1032.5 L2259.1 1031.7 L2260.8 1028.7 L2262.4 1025.4 L2264.0 1022.5 L2265.0 1032.5 L2263.9 1032.5 L2262.9 1036.2 L2261.8 1039.5 L2260.7 1040.9 L2259.6 1042.5 L2258.6 1046.3 L2257.5 1050.0 L2255.3 1049.6 L2253.1 1051.9 L2250.9 1052.1 L2248.8 1052.2 L2246.6 1052.2 L2244.4 1055.6 L2242.2 1057.5 L2240.0 1060.0 L2238.1 1061.5 L2236.1 1062.7 L2234.2 1064.9 L2232.2 1065.7 L2230.3 1067.3 L2228.3 1068.9 L2226.4 1067.2 L2224.4 1072.7 L2222.5 1075.0 L2220.0 1073.7 L2217.5 1074.4 L2215.0 1074.7 L2212.5 1074.8 L2210.0 1075.0 L2208.8 1073.9 L2207.5 1078.8 L2206.2 1080.7 L2205.0 1083.2 L2203.8 1085.3 L2202.5 1086.1 L2201.2 1088.6 L2200.0 1092.5 L2197.5 1091.0 L2195.0 1091.1 L2192.5 1089.5 L2190.0 1088.5 L2187.5 1089.7 L2185.0 1090.0 L2182.5 1089.2 L2180.0 1087.0 L2177.5 1090.4 L2175.0 1091.4 L2172.5 1089.6 L2170.0 1092.7 L2167.5 1090.6 L2165.0 1093.5 L2162.5 1093.7 L2160.0 1095.0 L2157.5 1092.5 L2155.0 1096.8 L2152.5 1097.1 L2150.0 1098.4 L2147.5 1100.4 L2145.0 1100.6 L2142.5 1101.7 L2140.0 1104.0 L2137.5 1104.3 L2135.0 1103.7 L2132.5 1104.3 L2130.0 1103.8 L2127.5 1104.2 L2125.0 1104.0 L2122.5 1104.2 L2120.0 1104.7 L2117.5 1104.2 L2115.0 1106.3 L2112.5 1107.2 L2110.0 1107.5 L2108.1 1108.3 L2106.2 1111.0 L2104.4 1113.0 L2102.5 1114.9 L2100.6 1114.9 L2098.8 1117.7 L2096.9 1115.9 L2095.0 1122.5 L2092.5 1120.7 L2090.0 1120.9 L2087.5 1120.3 L2085.0 1122.5 L2082.5 1120.9 L2080.0 1122.0 L2077.5 1120.2 L2075.0 1120.8 L2072.5 1120.3 L2070.0 1121.7 L2067.5 1121.7 L2065.0 1120.8 L2062.5 1122.3 L2060.0 1122.5 L2057.5 1119.1 L2055.0 1118.8 L2052.5 1119.3 L2050.0 1117.4 L2047.5 1116.5 L2045.0 1115.8 L2042.5 1115.0 L2040.0 1115.9 L2037.5 1114.3 L2035.0 1116.7 L2032.5 1117.2 L2030.0 1118.6 L2027.5 1119.5 L2025.0 1120.1 L2022.5 1121.7 L2020.0 1122.7 L2017.5 1123.3 L2015.0 1122.4 L2012.5 1126.3 L2010.0 1127.5 L2007.5 1126.1 L2005.0 1126.5 L2002.5 1125.0 L2000.0 1125.7 L1997.5 1126.3 L1995.0 1126.1 L1992.5 1125.5 L1990.0 1126.8 L1987.5 1123.1 L1985.0 1127.5 L1982.5 1126.6 L1980.0 1127.1 L1977.5 1126.1 L1975.0 1126.7 L1972.5 1125.7 L1970.0 1126.2 L1967.5 1125.8 L1965.0 1125.0 L1962.5 1125.5 L1960.0 1126.0 L1957.5 1126.4 L1955.0 1125.1 L1952.5 1124.5 L1950.0 1127.7 L1947.5 1127.8 L1945.0 1128.4 L1942.5 1129.1 L1940.0 1129.7 L1937.5 1127.1 L1935.0 1131.0 L1932.5 1127.2 L1930.0 1130.0 L1927.5 1128.2 L1925.0 1128.3 L1922.5 1129.8 L1920.0 1130.2 L1917.5 1129.2 L1915.0 1129.9 L1912.5 1129.4 L1910.0 1130.0 L1907.5 1129.0 L1905.0 1127.5 L1902.5 1126.9 L1900.0 1130.1 L1897.5 1127.8 L1895.0 1128.7 L1892.5 1127.2 L1890.0 1130.6 L1887.5 1129.7 L1885.0 1128.7 L1882.5 1130.4 L1880.0 1131.0 L1877.5 1130.9 L1875.0 1126.9 L1872.5 1130.3 L1870.0 1128.2 L1867.5 1131.0 L1865.0 1128.7 L1862.5 1131.4 L1860.0 1131.4 L1857.5 1130.7 L1855.0 1131.2 L1852.5 1130.7 L1850.0 1131.9 L1847.5 1128.8 L1845.0 1131.1 L1842.5 1128.3 L1840.0 1132.3 L1837.5 1131.5 L1835.0 1132.5 L1832.5 1133.0 L1830.0 1133.8 L1827.5 1133.4 L1825.0 1134.1 L1822.5 1136.0 L1820.0 1134.9 L1817.5 1133.6 L1815.0 1133.8 L1812.5 1132.7 L1810.0 1132.4 L1807.5 1132.5 L1805.0 1132.5 L1802.5 1132.9 L1800.0 1130.7 L1797.5 1130.6 L1795.0 1134.2 L1792.5 1133.9 L1790.0 1134.0 L1787.5 1132.2 L1785.0 1136.0 L1782.5 1134.0 L1780.0 1136.3 L1777.5 1134.3 L1775.0 1134.5 L1772.5 1134.4 L1770.0 1136.1 L1767.5 1137.2 L1765.0 1135.7 L1762.5 1134.7 L1760.0 1137.0 L1757.5 1137.2 L1755.0 1137.9 L1752.5 1138.2 L1750.0 1135.4 L1747.5 1136.7 L1745.0 1136.6 L1742.5 1137.2 L1740.0 1138.7 L1737.5 1137.3 L1735.0 1140.0 L1732.5 1138.8 L1730.0 1138.1 L1727.5 1140.1 L1725.0 1138.7 L1722.5 1140.9 L1720.0 1141.5 L1717.5 1141.1 L1715.0 1141.7 L1712.5 1142.7 L1710.0 1144.0 L1707.5 1142.7 L1705.0 1141.8 L1702.5 1142.7 L1700.0 1142.8 L1697.5 1143.7 L1695.0 1143.4 L1692.5 1142.3 L1690.0 1140.9 L1687.5 1143.2 L1685.0 1143.4 L1682.5 1140.8 L1680.0 1144.0 L1677.5 1142.4 L1675.0 1142.9 L1672.5 1139.8 L1670.0 1142.7 L1667.5 1142.5 L1665.0 1143.3 L1662.5 1143.7 L1660.0 1141.7 L1657.5 1142.5 L1655.0 1143.0 L1652.5 1142.4 L1650.0 1143.7 L1647.5 1144.0 L1645.0 1141.1 L1642.5 1141.2 L1640.0 1141.9 L1637.5 1143.1 L1635.0 1144.0 L1632.5 1144.1 L1630.0 1143.7 L1627.5 1144.2 L1625.0 1144.5 L1622.5 1144.4 L1620.0 1144.2 L1617.5 1145.0 L1615.0 1143.9 L1612.5 1146.0 L1610.0 1145.1 L1607.5 1146.5 L1605.0 1144.5 L1602.5 1146.6 L1600.0 1147.2 L1597.5 1146.4 L1595.0 1145.2 L1592.5 1146.8 L1590.0 1144.7 L1587.5 1147.1 L1585.0 1145.7 L1582.5 1149.0 L1580.0 1145.9 L1577.5 1145.9 L1575.0 1145.9 L1572.5 1148.2 L1570.0 1146.7 L1567.5 1147.7 L1565.0 1146.1 L1562.5 1147.4 L1560.0 1143.8 L1557.5 1146.3 L1555.0 1144.8 L1552.5 1147.2 L1550.0 1146.0 L1547.5 1146.2 L1545.0 1145.7 L1542.5 1145.4 L1540.0 1146.5 L1537.5 1143.3 L1535.0 1143.3 L1532.5 1145.8 L1530.0 1144.0 L1527.5 1146.0 L1525.0 1142.5 L1522.5 1145.4 L1520.0 1144.7 L1517.5 1145.4 L1515.0 1142.2 L1512.5 1144.3 L1510.0 1145.0 L1507.4 1143.0 L1504.8 1143.6 L1502.2 1143.5 L1499.6 1142.3 L1497.1 1139.6 L1494.5 1140.6 L1491.9 1141.9 L1489.3 1141.2 L1486.7 1140.1 L1484.1 1141.4 L1481.5 1139.7 L1478.9 1140.6 L1476.3 1140.0 L1473.8 1140.0 Z" fill="#1a1a1a" stroke="#1a1a1a" stroke-width="0.6" stroke-linejoin="round"/>
<path d="M298.6 1659.6 L298.9 1664.2 L299.2 1667.0 L299.6 1669.7 L299.9 1671.8 L300.2 1675.0 L300.5 1676.7 L303.0 1678.0 L305.4 1680.2 L307.9 1679.8 L310.2 1683.4 L312.5 1684.7 L314.8 1684.3 L317.1 1686.0 L319.5 1688.0 L321.8 1688.9 L324.1 1688.2 L326.4 1689.0 L328.3 1687.8 L330.1 1685.9 L332.0 1684.3 L333.8 1682.7 L335.7 1679.8 L338.8 1681.1 L341.9 1682.5 L345.0 1682.9 L346.7 1686.0 L348.4 1687.7 L350.1 1689.6 L351.8 1690.8 L353.5 1693.0 L355.1 1695.5 L356.8 1699.0 L358.5 1699.6 L360.2 1701.0 L361.9 1703.5 L363.6 1704.5 L364.8 1708.9 L365.9 1709.4 L367.1 1713.1 L368.2 1714.1 L369.4 1716.5 L370.6 1719.1 L371.7 1721.8 L372.9 1723.0 L374.0 1726.4 L375.2 1728.3 L376.3 1731.1 L377.4 1735.5 L378.6 1734.9 L379.7 1738.2 L380.9 1739.9 L382.0 1741.7 L383.4 1744.3 L384.8 1747.4 L386.2 1748.4 L387.6 1752.2 L388.9 1753.1 L390.3 1755.1 L391.7 1758.4 L393.1 1760.6 L394.5 1761.8 L396.4 1764.4 L398.4 1765.5 L400.3 1768.5 L402.2 1769.2 L404.2 1770.8 L406.1 1773.5 L408.1 1774.8 L410.0 1775.7 L412.5 1777.6 L415.0 1780.3 L417.4 1782.2 L419.9 1784.3 L422.4 1783.5 L424.3 1785.7 L426.3 1788.0 L428.2 1790.1 L430.1 1791.3 L432.1 1793.0 L434.0 1794.6 L436.0 1796.1 L437.9 1797.4 L440.6 1800.3 L443.3 1799.8 L446.0 1800.4 L448.7 1801.4 L451.4 1800.0 L454.1 1800.6 L456.8 1800.6 L459.5 1800.5 L461.8 1803.6 L464.1 1805.7 L466.5 1807.3 L468.8 1808.2 L471.4 1809.2 L474.0 1809.2 L476.6 1807.2 L479.1 1806.9 L481.7 1808.0 L484.3 1806.0 L490.0 1812.0 L488.3 1813.1 L486.7 1814.8 L485.0 1817.6 L483.3 1818.2 L481.7 1821.2 L480.0 1824.0 L477.3 1825.3 L474.6 1826.5 L471.9 1828.3 L469.3 1828.3 L466.8 1827.2 L464.2 1827.3 L461.6 1826.2 L459.0 1827.7 L456.4 1828.1 L453.9 1827.6 L451.3 1826.5 L448.7 1827.7 L446.1 1827.0 L443.6 1827.5 L441.0 1828.3 L438.4 1827.3 L435.8 1827.5 L433.2 1828.2 L430.7 1827.1 L428.1 1827.3 L425.5 1826.9 L422.9 1827.3 L420.3 1827.8 L417.8 1828.1 L415.2 1828.2 L412.6 1827.9 L410.0 1828.3 L407.4 1827.4 L404.7 1826.1 L402.1 1827.6 L399.4 1825.4 L396.8 1826.6 L394.1 1825.0 L391.4 1826.4 L388.8 1826.2 L386.1 1825.9 L383.5 1825.8 L380.8 1822.1 L378.2 1825.2 L375.5 1824.7 L372.9 1825.2 L370.2 1823.8 L367.5 1823.4 L364.8 1822.3 L362.0 1820.8 L359.3 1822.1 L356.6 1821.5 L353.9 1820.4 L351.2 1820.6 L348.7 1818.7 L346.2 1816.5 L343.8 1815.3 L341.3 1813.1 L338.8 1812.9 L336.2 1813.3 L333.6 1813.9 L331.1 1813.8 L328.5 1812.8 L325.9 1815.4 L323.3 1816.0 L321.4 1813.9 L319.6 1808.7 L317.7 1808.6 L315.9 1807.6 L314.0 1806.7 L311.4 1805.0 L308.9 1805.2 L306.3 1805.1 L303.7 1803.3 L301.2 1803.3 L298.6 1803.6 Z" fill="#1a1a1a" stroke="#1a1a1a" stroke-width="0.6" stroke-linejoin="round"/>
<path d="M1454.9 1667.7 L1455.5 1674.8 L1456.0 1675.0 L1457.7 1679.5 L1460.4 1679.0 L1463.1 1678.7 L1465.8 1678.0 L1468.5 1676.9 L1471.2 1676.6 L1473.9 1676.5 L1476.6 1676.5 L1479.3 1673.6 L1481.8 1673.7 L1484.2 1672.8 L1486.7 1673.2 L1489.1 1671.4 L1491.5 1670.4 L1494.0 1669.3 L1496.5 1668.8 L1498.9 1667.7 L1501.4 1668.5 L1503.9 1670.3 L1506.4 1668.5 L1508.9 1668.5 L1511.4 1668.3 L1513.9 1669.7 L1516.4 1670.6 L1518.9 1667.8 L1521.4 1669.1 L1523.9 1669.4 L1526.4 1667.7 L1528.9 1669.0 L1531.3 1669.9 L1533.8 1671.4 L1536.2 1672.9 L1538.7 1673.1 L1541.1 1673.7 L1543.5 1675.1 L1546.0 1675.5 L1548.4 1677.1 L1550.7 1678.6 L1553.1 1679.9 L1555.4 1682.4 L1557.8 1682.6 L1560.2 1683.8 L1562.5 1685.3 L1564.9 1687.8 L1567.2 1688.8 L1569.6 1689.3 L1571.6 1691.2 L1573.5 1694.4 L1575.5 1695.9 L1577.5 1699.3 L1579.4 1699.4 L1581.4 1701.3 L1583.4 1703.4 L1585.4 1705.8 L1587.3 1705.4 L1589.3 1707.0 L1591.8 1708.0 L1594.2 1711.2 L1596.7 1709.7 L1599.2 1710.8 L1601.6 1710.9 L1604.1 1712.7 L1606.5 1712.2 L1609.0 1712.9 L1611.5 1715.3 L1614.0 1715.9 L1616.5 1715.6 L1619.0 1717.4 L1621.5 1718.0 L1623.9 1720.8 L1626.4 1720.6 L1628.9 1721.9 L1631.4 1723.4 L1633.9 1722.7 L1636.4 1722.7 L1639.0 1724.9 L1641.6 1726.3 L1644.3 1726.6 L1646.9 1727.6 L1649.5 1728.2 L1652.1 1730.1 L1654.8 1729.1 L1657.4 1733.5 L1660.0 1730.5 L1662.4 1731.3 L1664.8 1733.6 L1667.2 1732.9 L1669.7 1734.0 L1672.1 1735.9 L1674.5 1736.5 L1676.9 1736.9 L1679.3 1737.3 L1681.7 1737.4 L1684.2 1739.3 L1686.6 1740.5 L1689.0 1741.8 L1691.4 1740.4 L1693.8 1741.7 L1696.1 1743.5 L1698.5 1747.4 L1700.8 1744.6 L1703.2 1745.8 L1705.6 1747.9 L1707.9 1748.2 L1710.3 1749.2 L1712.6 1749.8 L1715.0 1750.2 L1717.2 1753.8 L1719.4 1755.1 L1721.5 1756.7 L1723.7 1755.6 L1725.9 1757.8 L1728.1 1759.8 L1730.2 1759.9 L1732.4 1760.8 L1734.6 1762.0 L1737.0 1761.3 L1739.3 1759.7 L1741.7 1758.8 L1744.0 1757.6 L1746.4 1756.0 L1748.9 1756.3 L1751.4 1756.9 L1753.9 1756.5 L1756.4 1758.8 L1758.9 1757.8 L1761.5 1756.0 L1764.0 1757.4 L1766.5 1756.5 L1769.0 1757.2 L1771.5 1757.4 L1774.0 1756.0 L1776.6 1756.9 L1779.2 1758.5 L1781.8 1757.8 L1784.4 1761.5 L1787.0 1758.8 L1789.6 1760.5 L1792.2 1760.4 L1794.8 1759.9 L1797.4 1761.3 L1800.0 1760.4 L1803.0 1761.2 L1806.0 1762.0 L1809.1 1763.0 L1812.1 1762.1 L1812.9 1766.0 L1813.8 1767.6 L1814.7 1770.6 L1815.5 1772.5 L1818.1 1773.9 L1820.7 1773.6 L1823.3 1774.1 L1825.9 1774.8 L1828.5 1775.2 L1831.1 1775.1 L1833.7 1776.7 L1836.3 1777.2 L1838.8 1778.3 L1841.4 1779.5 L1844.0 1780.8 L1846.6 1781.1 L1849.3 1782.8 L1852.0 1781.2 L1854.7 1783.3 L1857.5 1781.2 L1860.2 1782.1 L1862.9 1781.6 L1865.6 1781.1 L1866.5 1779.5 L1867.3 1777.0 L1868.2 1774.2 L1869.0 1771.8 L1869.9 1769.0 L1872.5 1771.2 L1875.1 1769.8 L1877.7 1769.0 L1880.7 1769.7 L1883.8 1770.4 L1886.8 1770.3 L1889.8 1769.9 L1892.1 1770.6 L1894.4 1769.2 L1896.7 1766.5 L1898.8 1765.0 L1901.0 1761.3 L1904.0 1765.4 L1907.0 1765.6 L1909.6 1764.9 L1912.2 1763.9 L1912.4 1761.6 L1912.7 1759.6 L1912.9 1758.7 L1913.2 1755.1 L1913.4 1752.6 L1913.6 1750.0 L1913.9 1747.5 L1914.1 1744.6 L1914.3 1742.2 L1914.6 1738.1 L1914.8 1736.5 L1915.1 1733.9 L1915.3 1730.2 L1919.1 1730.2 L1919.4 1734.5 L1919.8 1736.0 L1920.1 1738.5 L1920.5 1742.4 L1920.8 1744.0 L1921.3 1747.4 L1921.8 1751.4 L1922.4 1753.6 L1922.9 1756.6 L1923.4 1758.7 L1924.7 1755.7 L1926.0 1752.6 L1930.3 1752.6 L1930.7 1757.1 L1931.0 1759.0 L1931.4 1762.0 L1931.7 1764.0 L1932.1 1765.6 L1933.5 1763.5 L1935.0 1761.3 L1936.4 1757.0 L1939.0 1756.5 L1941.6 1753.6 L1944.1 1752.2 L1946.7 1750.1 L1948.9 1750.3 L1951.1 1748.1 L1953.2 1746.5 L1955.4 1744.9 L1956.2 1744.8 L1957.1 1739.9 L1957.9 1736.3 L1961.4 1736.3 L1962.7 1740.1 L1964.0 1741.4 L1967.5 1742.9 L1970.9 1742.3 L1973.5 1745.0 L1976.1 1744.6 L1978.7 1745.2 L1981.3 1744.9 L1982.1 1743.8 L1983.0 1740.0 L1983.8 1736.3 L1986.8 1739.3 L1989.9 1737.1 L1992.5 1739.0 L1995.1 1739.7 L1998.0 1739.6 L2000.8 1738.1 L2003.7 1736.3 L2006.7 1736.3 L2009.8 1737.6 L2012.8 1736.7 L2015.8 1735.4 L2016.9 1734.0 L2018.1 1732.3 L2019.2 1728.5 L2022.1 1729.5 L2025.0 1731.1 L2027.9 1728.5 L2030.7 1730.0 L2033.4 1730.4 L2036.2 1729.5 L2038.9 1728.9 L2041.7 1728.5 L2044.2 1727.7 L2046.8 1725.0 L2049.2 1725.1 L2051.6 1722.3 L2054.1 1723.6 L2056.5 1721.1 L2058.9 1718.1 L2062.4 1719.3 L2065.8 1719.9 L2068.1 1722.7 L2070.4 1724.8 L2072.7 1725.9 L2072.7 1731.9 L2069.8 1727.5 L2067.0 1728.8 L2064.1 1727.6 L2061.8 1726.9 L2059.5 1728.8 L2057.2 1731.1 L2054.6 1731.5 L2052.0 1733.3 L2049.4 1733.4 L2046.8 1736.3 L2043.4 1739.7 L2039.9 1737.1 L2037.3 1736.7 L2034.7 1735.5 L2032.2 1734.0 L2029.6 1735.8 L2027.0 1735.5 L2024.4 1736.3 L2021.8 1738.2 L2019.2 1740.6 L2016.6 1740.4 L2014.1 1741.9 L2011.5 1741.8 L2008.9 1744.0 L2006.6 1745.7 L2004.3 1747.7 L2002.0 1750.1 L1999.0 1749.2 L1996.0 1749.7 L1992.9 1750.2 L1989.9 1750.9 L1987.8 1752.0 L1985.6 1753.5 L1982.8 1753.3 L1979.9 1753.4 L1977.1 1753.2 L1974.3 1753.5 L1972.2 1752.0 L1970.0 1748.8 L1967.8 1748.1 L1965.7 1747.5 L1963.1 1749.0 L1960.5 1751.8 L1958.4 1752.8 L1956.4 1755.5 L1954.3 1756.4 L1952.3 1759.8 L1950.2 1762.1 L1947.9 1762.0 L1945.6 1763.7 L1943.3 1765.6 L1941.6 1766.9 L1939.8 1769.2 L1938.1 1770.9 L1936.4 1774.2 L1934.1 1775.4 L1931.8 1777.8 L1929.5 1780.3 L1927.3 1781.0 L1925.2 1783.3 L1923.0 1784.3 L1920.8 1786.3 L1917.9 1786.6 L1915.1 1787.7 L1912.2 1789.8 L1908.8 1792.4 L1905.9 1790.8 L1903.0 1789.1 L1900.1 1788.9 L1898.4 1790.8 L1896.6 1792.4 L1894.9 1796.7 L1892.0 1795.5 L1889.2 1794.0 L1886.3 1794.1 L1884.0 1792.7 L1881.7 1791.5 L1879.4 1790.6 L1878.1 1791.8 L1876.8 1792.4 L1875.5 1796.0 L1874.2 1799.3 L1871.3 1797.4 L1868.5 1798.0 L1865.6 1799.3 L1862.7 1798.9 L1859.9 1799.0 L1857.0 1799.3 L1854.4 1799.6 L1851.8 1799.9 L1849.2 1799.9 L1846.6 1798.7 L1844.0 1801.8 L1841.4 1802.7 L1838.7 1802.3 L1836.0 1802.9 L1833.4 1803.6 L1830.7 1804.8 L1828.0 1805.4 L1825.3 1806.1 L1822.7 1806.2 L1820.0 1807.2 L1817.3 1807.9 L1814.4 1808.3 L1811.5 1807.3 L1808.7 1808.2 L1805.8 1809.3 L1802.9 1807.7 L1800.0 1810.5 L1797.5 1810.4 L1794.9 1810.6 L1792.4 1810.3 L1789.8 1810.2 L1787.3 1810.2 L1784.8 1810.6 L1782.2 1811.0 L1779.7 1810.3 L1777.2 1811.5 L1774.6 1811.0 L1772.1 1811.5 L1769.5 1809.3 L1767.0 1811.1 L1764.5 1811.1 L1761.9 1812.0 L1759.4 1812.2 L1756.8 1812.1 L1754.3 1813.0 L1751.8 1812.3 L1749.2 1812.3 L1746.7 1813.0 L1744.2 1809.6 L1741.6 1812.8 L1739.1 1812.5 L1736.6 1813.3 L1734.0 1811.6 L1731.5 1813.0 L1728.9 1813.5 L1726.4 1813.3 L1723.9 1813.7 L1721.3 1813.7 L1718.8 1813.1 L1716.3 1812.1 L1713.7 1811.4 L1711.2 1811.9 L1708.7 1814.1 L1706.1 1813.2 L1703.6 1812.1 L1701.1 1814.0 L1698.5 1811.6 L1696.0 1812.6 L1693.4 1813.9 L1690.9 1814.6 L1688.4 1813.5 L1685.8 1813.4 L1683.3 1813.3 L1680.8 1814.7 L1678.2 1813.5 L1675.7 1815.0 L1673.2 1814.4 L1670.6 1814.7 L1668.1 1811.8 L1665.5 1813.8 L1663.0 1812.8 L1660.5 1813.5 L1657.9 1813.6 L1655.4 1814.4 L1652.9 1814.1 L1650.3 1814.2 L1647.8 1812.6 L1645.2 1813.3 L1642.7 1813.5 L1640.2 1811.3 L1637.6 1811.4 L1635.1 1813.9 L1632.5 1813.9 L1630.0 1812.7 L1627.5 1812.4 L1624.9 1812.6 L1622.4 1811.9 L1619.8 1812.9 L1617.3 1813.0 L1614.8 1813.2 L1612.2 1812.2 L1609.7 1809.8 L1607.2 1813.0 L1604.6 1812.5 L1602.1 1812.9 L1599.5 1812.8 L1597.0 1813.0 L1594.5 1810.8 L1591.9 1812.5 L1589.4 1810.7 L1586.9 1812.3 L1584.4 1812.3 L1581.8 1811.3 L1579.3 1812.2 L1576.8 1810.1 L1574.2 1812.1 L1571.7 1811.7 L1569.2 1810.5 L1566.7 1811.7 L1564.1 1811.7 L1561.6 1811.3 L1559.1 1810.9 L1556.5 1811.3 L1554.0 1811.3 L1551.5 1811.3 L1548.9 1809.8 L1546.4 1810.8 L1543.9 1809.6 L1541.4 1811.3 L1538.8 1809.3 L1536.3 1809.4 L1533.8 1811.1 L1531.2 1809.6 L1528.7 1810.9 L1526.2 1808.9 L1523.7 1810.9 L1521.1 1810.4 L1518.6 1811.0 L1516.1 1809.8 L1513.5 1809.3 L1511.0 1810.7 L1508.4 1809.5 L1505.9 1808.0 L1503.3 1809.1 L1500.8 1809.6 L1498.2 1810.1 L1495.7 1810.2 L1493.1 1810.0 L1490.6 1809.2 L1488.0 1808.9 L1485.5 1807.2 L1482.9 1809.5 L1480.4 1809.2 L1477.8 1807.3 L1475.3 1809.3 L1472.7 1809.1 L1470.2 1807.9 L1467.6 1808.9 L1465.1 1808.3 L1462.5 1809.1 L1460.0 1809.1 L1457.4 1807.6 L1454.9 1809.0 Z" fill="#1a1a1a" stroke="#1a1a1a" stroke-width="0.6" stroke-linejoin="round"/>
<path d="M485.8 1811.1 L488.0 1810.3 L488.9 1808.4 L490.8 1807.4 L492.3 1805.9 L493.2 1804.0 L493.7 1802.3 L494.7 1800.6 L497.3 1801.0 L499.0 1799.7 L501.9 1799.0 L504.7 1798.0 L505.8 1795.5 L508.4 1793.9 L508.4 1791.5 L510.4 1790.1 L510.0 1787.5 L510.6 1785.3 L512.7 1784.0 L512.9 1781.7 L514.8 1780.2 L515.1 1778.0 L516.3 1776.3 L516.7 1774.2 L518.6 1772.9 L518.4 1770.5 L519.7 1768.9 L520.0 1766.8 L521.1 1765.1 L522.1 1763.3 L522.8 1761.4 L524.6 1760.0 L524.0 1757.5 L525.5 1755.9 L526.0 1755.2 L524.6 1754.0 L523.5 1756.0 L525.3 1756.0 L527.1 1757.3 L527.0 1760.1 L528.7 1761.6 L530.1 1764.9 L534.0 1766.5 L535.8 1762.5 L537.1 1760.2 L538.0 1758.3 L539.1 1756.6 L540.3 1754.8 L540.0 1752.5 L541.5 1750.9 L542.8 1749.2 L542.5 1746.9 L542.7 1744.8 L543.8 1743.0 L546.2 1741.8 L546.4 1739.7 L546.7 1737.6 L547.1 1735.5 L547.0 1734.0 L546.4 1734.0 L544.9 1735.1 L546.1 1735.7 L545.9 1738.2 L547.4 1739.7 L550.1 1741.1 L551.3 1743.6 L554.1 1744.1 L556.8 1743.1 L559.0 1745.2 L561.3 1743.9 L563.5 1744.8 L566.3 1744.6 L568.8 1743.5 L570.9 1742.0 L571.8 1739.4 L572.8 1737.6 L574.2 1736.1 L575.4 1734.5 L576.0 1732.5 L577.0 1730.8 L578.8 1730.0 L579.1 1728.0 L580.0 1726.1 L581.9 1725.2 L583.7 1724.0 L585.8 1723.0 L587.2 1721.2 L589.6 1721.0 L591.6 1720.5 L592.3 1717.9 L594.6 1718.4 L596.5 1717.7 L598.1 1716.0 L600.2 1715.5 L602.2 1714.9 L603.8 1713.8 L605.4 1712.6 L607.4 1712.6 L609.3 1713.5 L611.3 1712.2 L613.4 1713.1 L615.5 1712.7 L617.5 1712.2 L619.6 1712.8 L621.7 1712.2 L623.8 1712.3 L625.8 1711.6 L628.4 1711.3 L631.3 1711.5 L633.3 1709.5 L634.1 1706.6 L636.0 1705.1 L636.2 1702.8 L637.1 1700.8 L637.9 1698.8 L638.2 1696.5 L640.6 1695.3 L641.7 1693.5 L642.2 1691.4 L642.9 1689.4 L645.8 1688.7 L645.1 1686.0 L646.5 1684.4 L648.1 1682.9 L648.4 1680.7 L648.9 1678.6 L650.2 1677.0 L651.7 1675.5 L653.2 1673.9 L654.9 1672.4 L654.4 1669.7 L656.3 1668.3 L656.2 1665.9 L658.2 1664.6 L658.3 1662.3 L659.9 1660.8 L659.9 1658.5 L661.5 1656.9 L662.9 1655.2 L663.0 1652.8 L664.0 1650.8 L664.6 1648.6 L665.8 1646.7 L665.5 1644.3 L666.2 1642.3 L667.4 1640.3 L668.1 1638.3 L668.3 1636.1 L669.2 1634.1 L669.6 1632.1 L670.8 1630.4 L672.0 1628.7 L671.1 1626.2 L673.5 1625.0 L674.7 1623.2 L673.8 1620.7 L674.9 1619.0 L674.6 1616.7 L676.2 1615.1 L677.5 1613.4 L677.4 1611.9 L675.9 1612.3 L674.4 1611.7 L674.7 1613.1 L674.6 1615.2 L676.1 1617.0 L676.3 1619.0 L676.0 1621.9 L677.2 1624.4 L679.9 1625.8 L682.5 1627.0 L684.4 1628.6 L687.5 1631.0 L691.2 1629.5 L693.0 1626.6 L692.7 1623.3 L693.9 1621.4 L694.1 1619.3 L695.3 1617.4 L694.9 1615.2 L695.5 1613.2 L696.5 1611.2 L696.6 1609.1 L696.0 1606.9 L697.5 1605.0 L697.2 1602.8 L697.6 1600.7 L699.0 1599.1 L699.7 1597.4 L700.2 1595.5 L699.5 1592.9 L700.9 1591.2 L702.5 1589.6 L703.5 1587.7 L704.2 1585.6 L705.5 1583.9 L706.4 1581.9 L707.2 1580.0 L709.0 1578.5 L709.4 1576.4 L709.8 1574.3 L711.5 1572.8 L711.6 1570.5 L713.8 1569.3 L714.1 1567.2 L715.3 1566.0 L715.3 1563.9 L717.5 1563.6 L718.6 1562.0 L720.1 1560.4 L722.6 1559.2 L724.4 1557.4 L725.4 1555.1 L726.7 1552.9 L727.1 1550.9 L727.9 1549.0 L727.4 1546.7 L728.5 1544.9 L729.3 1543.0 L729.8 1541.0 L730.8 1539.1 L730.8 1537.1 L730.2 1534.8 L731.6 1533.1 L732.5 1531.4 L733.6 1529.6 L733.7 1527.5 L735.0 1525.9 L735.5 1523.9 L736.4 1522.1 L736.9 1520.2 L738.7 1518.9 L737.5 1516.3 L739.0 1514.8 L739.0 1512.5 L741.8 1511.7 L742.0 1509.5 L743.1 1507.8 L744.1 1506.0 L745.0 1504.2 L744.8 1501.8 L746.6 1500.5 L747.5 1498.6 L748.6 1497.2 L749.7 1495.8 L750.4 1494.0 L752.0 1492.9 L753.9 1491.8 L756.0 1491.1 L756.8 1488.9 L757.3 1486.3 L759.6 1485.8 L761.7 1484.9 L763.5 1483.8 L764.7 1482.1 L761.0 1478.1 L759.7 1479.7 L757.8 1480.7 L756.4 1482.3 L755.2 1484.0 L753.2 1484.9 L751.5 1486.1 L750.2 1487.8 L749.0 1489.6 L747.9 1491.6 L745.0 1492.1 L745.0 1494.8 L743.0 1496.3 L741.8 1497.9 L740.4 1499.5 L740.0 1501.6 L739.2 1503.4 L738.7 1505.4 L736.6 1506.7 L735.9 1508.6 L735.3 1510.5 L735.3 1512.8 L732.6 1513.9 L732.3 1516.1 L731.2 1517.9 L730.7 1520.0 L729.9 1521.9 L729.9 1524.0 L728.6 1525.7 L728.1 1527.6 L727.6 1529.6 L727.3 1531.7 L726.0 1533.4 L725.7 1535.5 L725.5 1537.6 L724.4 1539.4 L723.9 1541.4 L724.0 1543.6 L723.2 1545.5 L722.8 1547.5 L722.3 1549.5 L721.9 1551.5 L720.6 1552.7 L720.7 1554.6 L718.6 1554.8 L717.6 1556.5 L715.7 1557.7 L713.5 1558.9 L711.1 1560.1 L710.4 1562.6 L708.9 1564.6 L707.9 1566.4 L706.3 1567.9 L706.7 1570.4 L705.5 1572.2 L704.2 1573.8 L703.0 1575.6 L703.3 1578.0 L701.9 1579.7 L700.1 1581.2 L699.7 1583.4 L697.8 1584.9 L697.1 1586.9 L697.0 1589.3 L695.9 1591.1 L694.1 1593.0 L693.4 1595.2 L693.5 1597.6 L693.2 1599.9 L692.2 1601.8 L692.2 1604.0 L692.0 1606.1 L691.1 1608.0 L690.4 1610.0 L690.5 1612.2 L689.8 1614.2 L688.9 1616.1 L687.8 1618.1 L689.0 1620.5 L689.4 1622.7 L688.5 1623.8 L689.1 1624.8 L688.2 1623.8 L686.9 1622.6 L684.3 1622.6 L683.6 1620.3 L681.2 1620.8 L681.8 1619.0 L681.1 1617.9 L680.7 1615.9 L680.0 1614.0 L680.7 1611.8 L678.5 1609.6 L676.4 1605.4 L672.4 1608.3 L672.5 1611.6 L671.2 1613.2 L670.7 1615.2 L670.9 1617.4 L669.1 1618.9 L668.6 1620.9 L668.4 1623.0 L666.9 1624.6 L666.4 1626.6 L666.6 1628.8 L665.0 1630.4 L663.7 1632.2 L663.8 1634.5 L663.4 1636.7 L662.6 1638.7 L662.2 1640.9 L661.3 1642.9 L660.2 1644.9 L659.2 1646.8 L659.3 1649.0 L656.9 1650.3 L657.3 1652.6 L657.4 1654.9 L655.3 1656.2 L654.0 1657.9 L653.0 1659.7 L652.8 1661.9 L651.5 1663.6 L650.9 1665.6 L650.2 1667.5 L649.3 1669.4 L648.1 1671.0 L646.6 1672.5 L645.6 1674.3 L645.7 1676.8 L644.1 1678.2 L642.4 1679.7 L641.8 1681.7 L641.1 1683.7 L640.1 1685.5 L639.1 1687.3 L637.5 1688.8 L637.3 1691.1 L636.1 1692.9 L635.2 1694.9 L633.7 1696.5 L632.7 1698.5 L631.4 1700.2 L629.8 1701.8 L628.9 1703.8 L628.8 1705.5 L627.6 1705.9 L627.1 1707.2 L625.5 1706.6 L623.4 1706.7 L621.3 1706.7 L619.3 1707.0 L617.2 1707.2 L615.2 1707.5 L613.0 1706.6 L611.0 1707.3 L609.0 1707.7 L606.8 1708.6 L604.6 1708.8 L602.4 1709.4 L600.4 1710.5 L598.3 1710.9 L596.6 1712.1 L594.4 1712.3 L592.0 1711.9 L590.3 1713.8 L588.3 1714.7 L586.6 1716.5 L583.8 1716.7 L583.2 1719.6 L580.4 1719.5 L579.5 1722.1 L576.9 1722.7 L574.4 1723.8 L573.9 1726.3 L573.3 1728.6 L570.5 1729.3 L571.5 1732.2 L569.1 1733.1 L568.0 1734.8 L568.4 1737.3 L567.7 1738.7 L566.3 1738.6 L565.4 1740.2 L563.5 1738.7 L561.3 1739.0 L559.0 1739.2 L556.8 1737.7 L555.3 1738.9 L553.8 1739.3 L553.4 1737.9 L552.6 1736.8 L551.6 1734.9 L551.2 1732.8 L549.7 1729.9 L546.0 1727.7 L544.0 1731.5 L543.6 1734.2 L541.7 1735.7 L540.6 1737.4 L539.6 1739.2 L539.1 1741.2 L539.2 1743.4 L537.6 1745.0 L537.2 1747.1 L536.2 1748.9 L537.4 1751.5 L534.8 1752.7 L533.9 1754.6 L533.6 1756.7 L531.7 1758.1 L533.2 1760.2 L533.6 1760.3 L534.2 1759.1 L532.4 1758.8 L532.5 1756.0 L530.5 1754.7 L529.7 1752.6 L527.0 1751.1 L524.3 1747.4 L520.8 1750.0 L520.4 1753.6 L519.0 1755.2 L518.6 1757.3 L518.9 1759.6 L517.1 1761.0 L516.4 1762.9 L514.8 1764.5 L515.1 1766.8 L513.3 1768.2 L512.9 1770.3 L511.3 1771.8 L511.0 1773.9 L510.1 1775.7 L509.9 1777.7 L509.9 1780.1 L506.4 1780.7 L506.8 1783.3 L504.3 1784.4 L504.7 1787.0 L503.2 1788.7 L502.5 1790.7 L502.0 1792.3 L501.4 1793.9 L499.5 1794.5 L496.9 1793.6 L494.8 1795.7 L492.3 1796.9 L490.5 1798.4 L489.0 1800.4 L487.8 1802.1 L486.1 1803.3 L485.9 1805.8 L484.6 1807.4 L482.8 1808.5 Z" fill="#1a1a1a" stroke="#1a1a1a" stroke-width="0.8" stroke-linejoin="round"/>
<g stroke="#1a1a1a" fill="none" stroke-width="3.4" stroke-linecap="butt" stroke-linejoin="miter">
<line x1="532" y1="124.5" x2="1112.9" y2="124.5" stroke-width="4.3"/>
<line x1="1647.6" y1="287.8" x2="2230" y2="287.8" stroke-width="3.2"/>
<line x1="1459.5" y1="334" x2="2226" y2="334" stroke-width="5.5"/>
<line x1="426.4" y1="895.4" x2="1007" y2="895.4" stroke-width="5.2"/>
<line x1="243.4" y1="931.4" x2="728" y2="931.4" stroke-width="5.2"/>
<line x1="1858" y1="816.6" x2="2274.6" y2="816.6" stroke-width="4.9"/>
<line x1="1490" y1="862.8" x2="2266" y2="862.8" stroke-width="5.2"/>
<line x1="489" y1="1345.3" x2="743.4" y2="1345.3" stroke-width="4.9"/>
<line x1="303.5" y1="1418.9" x2="769" y2="1418.9" stroke-width="5"/>
<line x1="1743.6" y1="1564.2" x2="2028.9" y2="1564.2" stroke-width="3.6"/>
<line x1="1493" y1="1595.9" x2="2031.8" y2="1595.9" stroke-width="3.6"/>
<path d="M251.2 475.6 H232.4 V565.9 H251.2" stroke-width="4.8"/>
<path d="M1450.9 472.9 H1433.2 V563.3 H1450.9" stroke-width="3.8"/>
<path d="M232.2 1067.5 H213.5 V1159.7 H232.2" stroke-width="4.8"/>
<path d="M1437.6 1053.9 H1418.5 V1143.7 H1437.6" stroke-width="4.8"/>
<path d="M267.7 1702.6 H249.8 V1792.8 H267.7" stroke-width="4.5"/>
<path d="M1431.9 1725.8 H1413.2 V1817.2 H1431.9" stroke-width="5"/>
<path d="M295.1 587.8 V606.7 H390.5 V587.8" stroke-width="5"/>
<path d="M1475.8 568.8 V586.3 H1572.3 V568.8" stroke-width="4"/>
<path d="M257.1 1193.7 V1212 H352.5 V1193.7" stroke-width="5"/>
<path d="M1470.6 1166 V1182.2 H1565.8 V1166" stroke-width="4.7"/>
<path d="M306.2 1834.1 V1852.6 H401.3 V1834.1" stroke-width="4.8"/>
<path d="M1456.6 1839.3 V1858.2 H1552.2 V1839.3" stroke-width="5"/>
</g>
<rect x="292.6" y="2385.2" width="85.7" height="464.8" fill="#1a1a1a"/><path d="M297.4 2850 V2389.9 H373.6 V2850" fill="none" stroke="#1a1a1a" stroke-width="9.5" stroke-linejoin="miter"/>
<rect x="421.0" y="2635.4" width="83.6" height="214.6" fill="#959595"/><path d="M425.8 2850 V2640.2 H499.9 V2850" fill="none" stroke="#1a1a1a" stroke-width="9.5" stroke-linejoin="miter"/>
<rect x="549.2" y="2719.9" width="83.6" height="130.1" fill="#787878"/><path d="M554.0 2850 V2724.7 H628.0 V2850" fill="none" stroke="#1a1a1a" stroke-width="9.5" stroke-linejoin="miter"/>
<rect x="677.0" y="2823.6" width="83.6" height="26.4" fill="#cbcbcb"/><path d="M681.8 2850 V2828.3 H755.9 V2850" fill="none" stroke="#1a1a1a" stroke-width="9.5" stroke-linejoin="miter"/>
<rect x="804.9" y="2810.3" width="84.1" height="39.7" fill="#5c5c5c"/><path d="M809.6 2850 V2815.1 H884.2 V2850" fill="none" stroke="#1a1a1a" stroke-width="9.5" stroke-linejoin="miter"/>
<rect x="1579.5" y="2455.1" width="70.4" height="389.9" fill="#1a1a1a"/><path d="M1584.0 2845 V2459.6 H1645.4 V2845" fill="none" stroke="#1a1a1a" stroke-width="9" stroke-linejoin="miter"/>
<rect x="1793.5" y="2455.1" width="71.5" height="389.9" fill="#777777"/><path d="M1798.0 2845 V2459.6 H1860.5 V2845" fill="none" stroke="#1a1a1a" stroke-width="9" stroke-linejoin="miter"/>
<rect x="1901.7" y="2763.3" width="69.6" height="81.7" fill="#cbcbcb"/><path d="M1906.2 2845 V2767.8 H1966.8 V2845" fill="none" stroke="#1a1a1a" stroke-width="9" stroke-linejoin="miter"/>
<rect x="2008.7" y="2742.2" width="69.2" height="102.8" fill="#5c5c5c"/><path d="M2013.2 2845 V2746.7 H2073.4 V2845" fill="none" stroke="#1a1a1a" stroke-width="9" stroke-linejoin="miter"/>
<rect x="2116.7" y="2528.0" width="69.6" height="317.0" fill="#999999"/><path d="M2121.2 2845 V2532.5 H2181.8 V2845" fill="none" stroke="#1a1a1a" stroke-width="9" stroke-linejoin="miter"/>
<rect x="1685.9" y="2846" width="70.9" height="9.8" fill="#1a1a1a"/>
<line x1="1704.8" y1="2841.5" x2="1740" y2="2841.5" stroke="#bdbdbd" stroke-width="2.2"/>
<g stroke="#1a1a1a" fill="none" stroke-linecap="butt">
<line x1="250" y1="2166.9" x2="250" y2="2855" stroke-width="6.8"/>
<line x1="221.9" y1="2170.5" x2="250" y2="2170.5" stroke-width="7"/>
<line x1="221.9" y1="2397.6" x2="250" y2="2397.6" stroke-width="7"/>
<line x1="221.9" y1="2624.7" x2="250" y2="2624.7" stroke-width="7"/>
<line x1="221.6" y1="2851.8" x2="935.5" y2="2851.8" stroke-width="7.4"/>
<line x1="335.2" y1="2851" x2="335.2" y2="2880.8" stroke-width="7"/>
<line x1="462.7" y1="2851" x2="462.7" y2="2880.8" stroke-width="7"/>
<line x1="590.8" y1="2851" x2="590.8" y2="2880.8" stroke-width="7"/>
<line x1="718.3" y1="2851" x2="718.3" y2="2880.8" stroke-width="7"/>
<line x1="846.4" y1="2851" x2="846.4" y2="2880.8" stroke-width="7"/>
<line x1="335.5" y1="2298.6" x2="335.5" y2="2386" stroke-width="3"/>
<line x1="314.5" y1="2298.6" x2="357.6" y2="2298.6" stroke-width="3"/>
<line x1="462.8" y1="2502.6" x2="462.8" y2="2637" stroke-width="3"/>
<line x1="442.4" y1="2502.6" x2="484.2" y2="2502.6" stroke-width="3"/>
<line x1="591" y1="2705.3" x2="591" y2="2721" stroke-width="3"/>
<line x1="570.2" y1="2705.3" x2="611.4" y2="2705.3" stroke-width="3"/>
<line x1="718.8" y1="2796.3" x2="718.8" y2="2825" stroke-width="3"/>
<line x1="698" y1="2796.3" x2="739.5" y2="2796.3" stroke-width="3"/>
<line x1="846.6" y1="2767.2" x2="846.6" y2="2812" stroke-width="3"/>
<line x1="824" y1="2767.2" x2="867.4" y2="2767.2" stroke-width="3"/>
</g>
<g stroke="#1a1a1a" fill="none">
<line x1="1538.2" y1="2161.7" x2="1538.2" y2="2850" stroke-width="5.6"/>
<line x1="1508.5" y1="2165" x2="1538" y2="2165" stroke-width="6.8"/>
<line x1="1508.5" y1="2335.3" x2="1538" y2="2335.3" stroke-width="6.8"/>
<line x1="1508.5" y1="2505.6" x2="1538" y2="2505.6" stroke-width="6.8"/>
<line x1="1508.5" y1="2675.9" x2="1538" y2="2675.9" stroke-width="6.8"/>
<line x1="1508.8" y1="2846.8" x2="2227.7" y2="2846.8" stroke-width="7.5"/>
<line x1="1614.5" y1="2846" x2="1614.5" y2="2874.3" stroke-width="6"/>
<line x1="1721.6" y1="2846" x2="1721.6" y2="2874.3" stroke-width="6"/>
<line x1="1828.2" y1="2846" x2="1828.2" y2="2874.3" stroke-width="6"/>
<line x1="1936" y1="2846" x2="1936" y2="2874.3" stroke-width="6"/>
<line x1="2044" y1="2846" x2="2044" y2="2874.3" stroke-width="6"/>
<line x1="2150.6" y1="2846" x2="2150.6" y2="2874.3" stroke-width="6"/>
<line x1="1614.6" y1="2385.4" x2="1614.6" y2="2456" stroke-width="3"/>
<line x1="1595.7" y1="2385.4" x2="1631.3" y2="2385.4" stroke-width="3"/>
<line x1="1826.6" y1="2334" x2="1826.6" y2="2456" stroke-width="3"/>
<line x1="1808.7" y1="2334" x2="1843.3" y2="2334" stroke-width="3"/>
<line x1="1936" y1="2742.6" x2="1936" y2="2764" stroke-width="3"/>
<line x1="1917.6" y1="2742.6" x2="1953.7" y2="2742.6" stroke-width="3"/>
<line x1="2044.9" y1="2721" x2="2044.9" y2="2743" stroke-width="3"/>
<line x1="2026.4" y1="2721" x2="2061.6" y2="2721" stroke-width="3"/>
<line x1="2151.6" y1="2425" x2="2151.6" y2="2529" stroke-width="3"/>
<line x1="2132" y1="2425" x2="2169" y2="2425" stroke-width="3"/>
</g>
<g fill="#1a1a1a" font-family="'Liberation Sans', Arial, Helvetica, sans-serif">
<text x="40.3" y="79.5" font-size="87.02" stroke="#fff" stroke-width="1.8" textLength="46.1" lengthAdjust="spacingAndGlyphs">a</text>
<text x="278.8" y="109.0" font-size="47.00" stroke="#fff" stroke-width="1.1" textLength="105.3" lengthAdjust="spacingAndGlyphs">contr</text>
<text x="739.5" y="96.0" font-size="47.26" stroke="#fff" stroke-width="1.1" textLength="119.2" lengthAdjust="spacingAndGlyphs">CTX-1</text>
<text x="752.0" y="261.0" font-size="48.58" stroke="#fff" stroke-width="1.1" textLength="85.2" lengthAdjust="spacingAndGlyphs">TMF</text>
<text x="1128.5" y="185.4" font-size="48.55" stroke="#fff" stroke-width="1.1" textLength="80.3" lengthAdjust="spacingAndGlyphs">PDT</text>
<text x="222.5" y="580.0" font-size="48.68" textLength="113.5" lengthAdjust="spacingAndGlyphs" transform="rotate(-90 222.5 580.0)">2 mN</text>
<text x="275.1" y="662.7" font-size="45.85" textLength="140.7" lengthAdjust="spacingAndGlyphs">10 min</text>
<text x="1338.1" y="85.3" font-size="87.03" stroke="#fff" stroke-width="1.8" textLength="52.2" lengthAdjust="spacingAndGlyphs">b</text>
<text x="1888.5" y="246.5" font-size="46.01" stroke="#fff" stroke-width="1.1" textLength="116.2" lengthAdjust="spacingAndGlyphs">CTX-1</text>
<text x="1439.2" y="301.2" font-size="51.36" stroke="#fff" stroke-width="1.1" textLength="53.6" lengthAdjust="spacingAndGlyphs">nif</text>
<text x="1879.0" y="387.5" font-size="44.25" stroke="#fff" stroke-width="1.1" textLength="86.3" lengthAdjust="spacingAndGlyphs">TMF</text>
<text x="2062.5" y="467.3" font-size="47.55" stroke="#fff" stroke-width="1.1" textLength="82.8" lengthAdjust="spacingAndGlyphs">PDT</text>
<text x="1421.0" y="578.9" font-size="46.71" textLength="115.8" lengthAdjust="spacingAndGlyphs" transform="rotate(-90 1421.0 578.9)">2 mN</text>
<text x="1458.2" y="642.0" font-size="41.10" textLength="140.7" lengthAdjust="spacingAndGlyphs">10 min</text>
<text x="39.5" y="776.2" font-size="87.58" stroke="#fff" stroke-width="1.8" textLength="49.5" lengthAdjust="spacingAndGlyphs">c</text>
<text x="657.5" y="871.0" font-size="47.26" stroke="#fff" stroke-width="1.1" textLength="115.2" lengthAdjust="spacingAndGlyphs">CTX-1</text>
<text x="204.5" y="913.0" font-size="47.26" stroke="#fff" stroke-width="1.1" textLength="200.3" lengthAdjust="spacingAndGlyphs">Ca 10 mM</text>
<text x="453.0" y="1013.5" font-size="46.01" stroke="#fff" stroke-width="1.1" textLength="149.3" lengthAdjust="spacingAndGlyphs">no TMF</text>
<text x="864.0" y="1048.9" font-size="44.76" stroke="#fff" stroke-width="1.1" textLength="87.2" lengthAdjust="spacingAndGlyphs">TMF</text>
<text x="1015.5" y="1095.5" font-size="46.01" stroke="#fff" stroke-width="1.1" textLength="79.3" lengthAdjust="spacingAndGlyphs">PDT</text>
<text x="200.0" y="1172.0" font-size="48.12" textLength="113.4" lengthAdjust="spacingAndGlyphs" transform="rotate(-90 200.0 1172.0)">3 mN</text>
<text x="236.2" y="1269.0" font-size="46.58" textLength="141.7" lengthAdjust="spacingAndGlyphs">10 min</text>
<text x="1332.0" y="764.4" font-size="87.10" stroke="#fff" stroke-width="1.8" textLength="53.1" lengthAdjust="spacingAndGlyphs">d</text>
<text x="1949.5" y="790.8" font-size="49.18" stroke="#fff" stroke-width="1.1" textLength="117.2" lengthAdjust="spacingAndGlyphs">CTX-1</text>
<text x="1467.1" y="833.7" font-size="51.08" stroke="#fff" stroke-width="1.1" textLength="151.9" lengthAdjust="spacingAndGlyphs">KB + nif</text>
<text x="2077.0" y="952.3" font-size="47.03" stroke="#fff" stroke-width="1.1" textLength="87.2" lengthAdjust="spacingAndGlyphs">TMF</text>
<text x="2209.5" y="987.0" font-size="48.58" stroke="#fff" stroke-width="1.1" textLength="82.3" lengthAdjust="spacingAndGlyphs">PDT</text>
<text x="1406.3" y="1160.8" font-size="48.71" textLength="115.8" lengthAdjust="spacingAndGlyphs" transform="rotate(-90 1406.3 1160.8)">2 mN</text>
<text x="1450.3" y="1240.0" font-size="42.47" textLength="144.2" lengthAdjust="spacingAndGlyphs">10 min</text>
<text x="39.6" y="1372.3" font-size="87.21" stroke="#fff" stroke-width="1.8" textLength="50.6" lengthAdjust="spacingAndGlyphs">e</text>
<text x="545.6" y="1322.2" font-size="48.13" stroke="#fff" stroke-width="1.1" textLength="115.9" lengthAdjust="spacingAndGlyphs">CTX-1</text>
<text x="302.0" y="1394.9" font-size="43.62" stroke="#fff" stroke-width="1.1" textLength="51.6" lengthAdjust="spacingAndGlyphs">Ry</text>
<text x="803.2" y="1461.1" font-size="49.49" stroke="#fff" stroke-width="1.1" textLength="81.8" lengthAdjust="spacingAndGlyphs">PDT</text>
<text x="486.0" y="1615.5" font-size="46.01" stroke="#fff" stroke-width="1.1" textLength="147.3" lengthAdjust="spacingAndGlyphs">no TMF</text>
<text x="237.8" y="1808.7" font-size="46.84" textLength="115.6" lengthAdjust="spacingAndGlyphs" transform="rotate(-90 237.8 1808.7)">2 mN</text>
<text x="285.4" y="1910.0" font-size="47.95" textLength="143.2" lengthAdjust="spacingAndGlyphs">10 min</text>
<text x="1334.4" y="1365.5" font-size="85.06" stroke="#fff" stroke-width="1.8" textLength="28.1" lengthAdjust="spacingAndGlyphs">f</text>
<text x="1805.5" y="1543.0" font-size="47.31" stroke="#fff" stroke-width="1.1" textLength="117.2" lengthAdjust="spacingAndGlyphs">CTX-1</text>
<text x="1441.0" y="1573.0" font-size="48.58" stroke="#fff" stroke-width="1.1" textLength="79.2" lengthAdjust="spacingAndGlyphs">APB</text>
<text x="1877.0" y="1682.6" font-size="42.60" stroke="#fff" stroke-width="1.1" textLength="145.7" lengthAdjust="spacingAndGlyphs">no TMF</text>
<text x="2089.5" y="1689.9" font-size="43.03" stroke="#fff" stroke-width="1.1" textLength="80.3" lengthAdjust="spacingAndGlyphs">PDT</text>
<text x="1402.0" y="1830.5" font-size="50.85" textLength="113.8" lengthAdjust="spacingAndGlyphs" transform="rotate(-90 1402.0 1830.5)">2 mN</text>
<text x="1436.2" y="1915.0" font-size="42.47" textLength="141.7" lengthAdjust="spacingAndGlyphs">10 min</text>
<text x="39.5" y="2037.4" font-size="85.91" stroke="#fff" stroke-width="1.8" textLength="49.5" lengthAdjust="spacingAndGlyphs">g</text>
<text x="124.9" y="2189.5" font-size="53.35" font-weight="bold" textLength="84.7" lengthAdjust="spacingAndGlyphs">300</text>
<text x="124.6" y="2417.0" font-size="53.58" font-weight="bold" textLength="86.2" lengthAdjust="spacingAndGlyphs">200</text>
<text x="123.4" y="2643.0" font-size="53.58" font-weight="bold" textLength="87.4" lengthAdjust="spacingAndGlyphs">100</text>
<text x="187.0" y="2871.6" font-size="53.22" font-weight="bold" textLength="25.9" lengthAdjust="spacingAndGlyphs">0</text>
<text x="76.8" y="2841.2" font-size="48.50" textLength="693.6" lengthAdjust="spacingAndGlyphs" transform="rotate(-90 76.8 2841.2)">Transient max force, % to control</text>
<text x="333.5" y="2913.3" font-size="50.86" font-weight="bold" text-anchor="end" transform="rotate(-45 333.5 2913.3)">CTX-1</text>
<text x="482.1" y="2925.5" font-size="52.48" font-weight="bold" text-anchor="end" transform="rotate(-45 482.1 2925.5)">nif</text>
<text x="608.6" y="2920.3" font-size="52.58" font-weight="bold" text-anchor="end" transform="rotate(-45 608.6 2920.3)">KB + nif</text>
<text x="738.1" y="2924.3" font-size="53.33" font-weight="bold" text-anchor="end" transform="rotate(-45 738.1 2924.3)">APB</text>
<text x="865.6" y="2925.9" font-size="53.07" font-weight="bold" text-anchor="end" transform="rotate(-45 865.6 2925.9)">Ry</text>
<text x="583.2" y="2689.1" font-size="47.15">*</text>
<text x="695.7" y="2790.7" font-size="49.49" textLength="47.0" lengthAdjust="spacingAndGlyphs">* *</text>
<text x="820.5" y="2763.7" font-size="46.67" textLength="51.2" lengthAdjust="spacingAndGlyphs">* *</text>
<text x="1334.9" y="2047.5" font-size="84.71" stroke="#fff" stroke-width="1.8" textLength="50.0" lengthAdjust="spacingAndGlyphs">h</text>
<text x="1402.5" y="2185.6" font-size="55.45" font-weight="bold" textLength="86.6" lengthAdjust="spacingAndGlyphs">400</text>
<text x="1401.9" y="2354.2" font-size="55.45" font-weight="bold" textLength="86.7" lengthAdjust="spacingAndGlyphs">300</text>
<text x="1401.9" y="2524.2" font-size="55.45" font-weight="bold" textLength="87.4" lengthAdjust="spacingAndGlyphs">200</text>
<text x="1399.8" y="2695.0" font-size="54.95" font-weight="bold" textLength="88.8" lengthAdjust="spacingAndGlyphs">100</text>
<text x="1479.2" y="2866.3" font-size="53.01" font-weight="bold" textLength="25.1" lengthAdjust="spacingAndGlyphs">0</text>
<text x="1353.0" y="2838.4" font-size="46.00" textLength="684.1" lengthAdjust="spacingAndGlyphs" transform="rotate(-90 1353.0 2838.4)">Diastolic tension, to force control</text>
<text x="1614.8" y="2917.1" font-size="50.90" font-weight="bold" text-anchor="end" transform="rotate(-45 1614.8 2917.1)">CTX-1</text>
<text x="1738.6" y="2921.4" font-size="50.50" font-weight="bold" text-anchor="end" transform="rotate(-45 1738.6 2921.4)">Ca<tspan font-size="31.3" dx="2.0" dy="-20.2">2+</tspan><tspan dx="32.0" dy="20.2">10</tspan><tspan dx="7.0">mM</tspan></text>
<text x="1847.8" y="2922.0" font-size="51.59" font-weight="bold" text-anchor="end" transform="rotate(-45 1847.8 2922.0)">nif</text>
<text x="1954.6" y="2923.5" font-size="51.41" font-weight="bold" text-anchor="end" transform="rotate(-45 1954.6 2923.5)">KB + nif</text>
<text x="2062.7" y="2920.1" font-size="53.42" font-weight="bold" text-anchor="end" transform="rotate(-45 2062.7 2920.1)">APB</text>
<text x="2167.4" y="2923.4" font-size="51.12" font-weight="bold" text-anchor="end" transform="rotate(-45 2167.4 2923.4)">Ry</text>
<text x="1698.4" y="2832.9" font-size="51.66" textLength="51.3" lengthAdjust="spacingAndGlyphs">* *</text>
<text x="1908.7" y="2741.4" font-size="51.66" textLength="50.3" lengthAdjust="spacingAndGlyphs">* *</text>
<text x="2015.8" y="2727.9" font-size="50.68" textLength="47.0" lengthAdjust="spacingAndGlyphs">* *</text>
</g>
</svg></body></html>
